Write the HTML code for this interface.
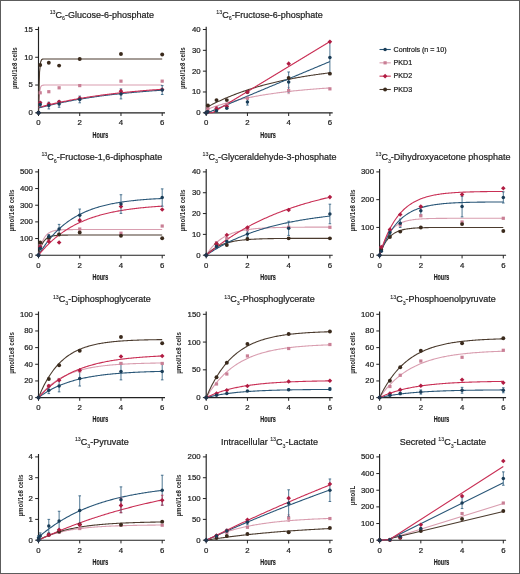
<!DOCTYPE html>
<html><head><meta charset="utf-8"><style>
html,body{margin:0;padding:0;background:#fff;}
svg{display:block;will-change:transform;}
text{font-family:"Liberation Sans",sans-serif;fill:#1e1e1e;stroke:#1e1e1e;stroke-width:0.22px;}
</style></head><body>
<svg width="520" height="574" viewBox="0 0 520 574">
<rect x="0" y="0" width="520" height="574" fill="#fff"/>
<path d="M38.5 26.7V112.8H165" fill="none" stroke="#222" stroke-width="1.15"/>
<path d="M35.2 112.8H38.5" stroke="#222" stroke-width="1"/>
<text x="32.9" y="115.25" font-size="7.8" text-anchor="end">0</text>
<path d="M35.2 85.03H38.5" stroke="#222" stroke-width="1"/>
<text x="32.9" y="87.48" font-size="7.8" text-anchor="end">5</text>
<path d="M35.2 57.27H38.5" stroke="#222" stroke-width="1"/>
<text x="32.9" y="59.72" font-size="7.8" text-anchor="end">10</text>
<path d="M35.2 29.5H38.5" stroke="#222" stroke-width="1"/>
<text x="32.9" y="31.95" font-size="7.8" text-anchor="end">15</text>
<path d="M38.5 112.8V116" stroke="#222" stroke-width="1"/>
<text x="38.5" y="125.2" font-size="7.8" text-anchor="middle">0</text>
<path d="M79.73 112.8V116" stroke="#222" stroke-width="1"/>
<text x="79.73" y="125.2" font-size="7.8" text-anchor="middle">2</text>
<path d="M120.97 112.8V116" stroke="#222" stroke-width="1"/>
<text x="120.97" y="125.2" font-size="7.8" text-anchor="middle">4</text>
<path d="M162.2 112.8V116" stroke="#222" stroke-width="1"/>
<text x="162.2" y="125.2" font-size="7.8" text-anchor="middle">6</text>
<text x="92.55" y="137.5" font-size="9.4" font-weight="bold" textLength="15.6" lengthAdjust="spacingAndGlyphs">Hours</text>
<text transform="translate(17.2 68.15) rotate(-90)" x="-20.9" y="0" font-size="8" font-weight="bold" style="stroke-width:0" textLength="41.8" lengthAdjust="spacingAndGlyphs">µmol/1e8 cells</text>
<text x="49.66" y="13.9" font-size="5.3" style="stroke-width:0.1px">13</text><text x="55.55" y="17.5" font-size="9.0">C</text><text x="62.05" y="20.4" font-size="5.3" style="stroke-width:0.1px">6</text><text x="65" y="17.5" font-size="9.0">-Glucose-6-phosphate</text>
<path d="M38.5 112.8 L39.53 92.99 L40.56 87.31 L41.59 85.69 L42.62 85.22 L43.65 85.09 L44.69 85.05 L45.72 85.04 L46.75 85.03 L47.78 85.03 L48.81 85.03 L49.84 85.03 L50.87 85.03 L51.9 85.03 L52.93 85.03 L53.96 85.03 L54.99 85.03 L56.02 85.03 L57.05 85.03 L58.09 85.03 L59.12 85.03 L60.15 85.03 L61.18 85.03 L62.21 85.03 L63.24 85.03 L64.27 85.03 L65.3 85.03 L66.33 85.03 L67.36 85.03 L68.39 85.03 L69.42 85.03 L70.46 85.03 L71.49 85.03 L72.52 85.03 L73.55 85.03 L74.58 85.03 L75.61 85.03 L76.64 85.03 L77.67 85.03 L78.7 85.03 L79.73 85.03 L80.76 85.03 L81.8 85.03 L82.83 85.03 L83.86 85.03 L84.89 85.03 L85.92 85.03 L86.95 85.03 L87.98 85.03 L89.01 85.03 L90.04 85.03 L91.07 85.03 L92.1 85.03 L93.13 85.03 L94.16 85.03 L95.2 85.03 L96.23 85.03 L97.26 85.03 L98.29 85.03 L99.32 85.03 L100.35 85.03 L101.38 85.03 L102.41 85.03 L103.44 85.03 L104.47 85.03 L105.5 85.03 L106.53 85.03 L107.57 85.03 L108.6 85.03 L109.63 85.03 L110.66 85.03 L111.69 85.03 L112.72 85.03 L113.75 85.03 L114.78 85.03 L115.81 85.03 L116.84 85.03 L117.87 85.03 L118.91 85.03 L119.94 85.03 L120.97 85.03 L122 85.03 L123.03 85.03 L124.06 85.03 L125.09 85.03 L126.12 85.03 L127.15 85.03 L128.18 85.03 L129.21 85.03 L130.24 85.03 L131.28 85.03 L132.31 85.03 L133.34 85.03 L134.37 85.03 L135.4 85.03 L136.43 85.03 L137.46 85.03 L138.49 85.03 L139.52 85.03 L140.55 85.03 L141.58 85.03 L142.61 85.03 L143.64 85.03 L144.68 85.03 L145.71 85.03 L146.74 85.03 L147.77 85.03 L148.8 85.03 L149.83 85.03 L150.86 85.03 L151.89 85.03 L152.92 85.03 L153.95 85.03 L154.98 85.03 L156.02 85.03 L157.05 85.03 L158.08 85.03 L159.11 85.03 L160.14 85.03 L161.17 85.03 L162.2 85.03" fill="none" stroke="#d99eb0" stroke-width="1.1"/>
<path d="M38.5 112.8 L39.53 72.22 L40.56 62.21 L41.59 59.74 L42.62 59.13 L43.65 58.98 L44.69 58.94 L45.72 58.94 L46.75 58.93 L47.78 58.93 L48.81 58.93 L49.84 58.93 L50.87 58.93 L51.9 58.93 L52.93 58.93 L53.96 58.93 L54.99 58.93 L56.02 58.93 L57.05 58.93 L58.09 58.93 L59.12 58.93 L60.15 58.93 L61.18 58.93 L62.21 58.93 L63.24 58.93 L64.27 58.93 L65.3 58.93 L66.33 58.93 L67.36 58.93 L68.39 58.93 L69.42 58.93 L70.46 58.93 L71.49 58.93 L72.52 58.93 L73.55 58.93 L74.58 58.93 L75.61 58.93 L76.64 58.93 L77.67 58.93 L78.7 58.93 L79.73 58.93 L80.76 58.93 L81.8 58.93 L82.83 58.93 L83.86 58.93 L84.89 58.93 L85.92 58.93 L86.95 58.93 L87.98 58.93 L89.01 58.93 L90.04 58.93 L91.07 58.93 L92.1 58.93 L93.13 58.93 L94.16 58.93 L95.2 58.93 L96.23 58.93 L97.26 58.93 L98.29 58.93 L99.32 58.93 L100.35 58.93 L101.38 58.93 L102.41 58.93 L103.44 58.93 L104.47 58.93 L105.5 58.93 L106.53 58.93 L107.57 58.93 L108.6 58.93 L109.63 58.93 L110.66 58.93 L111.69 58.93 L112.72 58.93 L113.75 58.93 L114.78 58.93 L115.81 58.93 L116.84 58.93 L117.87 58.93 L118.91 58.93 L119.94 58.93 L120.97 58.93 L122 58.93 L123.03 58.93 L124.06 58.93 L125.09 58.93 L126.12 58.93 L127.15 58.93 L128.18 58.93 L129.21 58.93 L130.24 58.93 L131.28 58.93 L132.31 58.93 L133.34 58.93 L134.37 58.93 L135.4 58.93 L136.43 58.93 L137.46 58.93 L138.49 58.93 L139.52 58.93 L140.55 58.93 L141.58 58.93 L142.61 58.93 L143.64 58.93 L144.68 58.93 L145.71 58.93 L146.74 58.93 L147.77 58.93 L148.8 58.93 L149.83 58.93 L150.86 58.93 L151.89 58.93 L152.92 58.93 L153.95 58.93 L154.98 58.93 L156.02 58.93 L157.05 58.93 L158.08 58.93 L159.11 58.93 L160.14 58.93 L161.17 58.93 L162.2 58.93" fill="none" stroke="#4b3b2e" stroke-width="1.1"/>
<path d="M38.5 108.08 L39.53 107.8 L40.56 107.53 L41.59 107.26 L42.62 106.99 L43.65 106.73 L44.69 106.47 L45.72 106.21 L46.75 105.95 L47.78 105.7 L48.81 105.45 L49.84 105.2 L50.87 104.96 L51.9 104.72 L52.93 104.48 L53.96 104.25 L54.99 104.02 L56.02 103.79 L57.05 103.56 L58.09 103.34 L59.12 103.11 L60.15 102.89 L61.18 102.68 L62.21 102.46 L63.24 102.25 L64.27 102.04 L65.3 101.84 L66.33 101.63 L67.36 101.43 L68.39 101.23 L69.42 101.04 L70.46 100.84 L71.49 100.65 L72.52 100.46 L73.55 100.27 L74.58 100.08 L75.61 99.9 L76.64 99.72 L77.67 99.54 L78.7 99.36 L79.73 99.19 L80.76 99.01 L81.8 98.84 L82.83 98.67 L83.86 98.51 L84.89 98.34 L85.92 98.18 L86.95 98.02 L87.98 97.86 L89.01 97.7 L90.04 97.54 L91.07 97.39 L92.1 97.24 L93.13 97.09 L94.16 96.94 L95.2 96.79 L96.23 96.65 L97.26 96.5 L98.29 96.36 L99.32 96.22 L100.35 96.08 L101.38 95.95 L102.41 95.81 L103.44 95.68 L104.47 95.55 L105.5 95.42 L106.53 95.29 L107.57 95.16 L108.6 95.03 L109.63 94.91 L110.66 94.78 L111.69 94.66 L112.72 94.54 L113.75 94.42 L114.78 94.31 L115.81 94.19 L116.84 94.08 L117.87 93.96 L118.91 93.85 L119.94 93.74 L120.97 93.63 L122 93.52 L123.03 93.41 L124.06 93.31 L125.09 93.2 L126.12 93.1 L127.15 93 L128.18 92.9 L129.21 92.8 L130.24 92.7 L131.28 92.6 L132.31 92.51 L133.34 92.41 L134.37 92.32 L135.4 92.22 L136.43 92.13 L137.46 92.04 L138.49 91.95 L139.52 91.86 L140.55 91.78 L141.58 91.69 L142.61 91.6 L143.64 91.52 L144.68 91.44 L145.71 91.35 L146.74 91.27 L147.77 91.19 L148.8 91.11 L149.83 91.03 L150.86 90.96 L151.89 90.88 L152.92 90.8 L153.95 90.73 L154.98 90.65 L156.02 90.58 L157.05 90.51 L158.08 90.43 L159.11 90.36 L160.14 90.29 L161.17 90.22 L162.2 90.16" fill="none" stroke="#2a5778" stroke-width="1.1"/>
<path d="M38.5 107.52 L39.53 107.24 L40.56 106.96 L41.59 106.69 L42.62 106.42 L43.65 106.15 L44.69 105.88 L45.72 105.62 L46.75 105.36 L47.78 105.1 L48.81 104.85 L49.84 104.6 L50.87 104.35 L51.9 104.1 L52.93 103.86 L53.96 103.62 L54.99 103.38 L56.02 103.15 L57.05 102.92 L58.09 102.69 L59.12 102.47 L60.15 102.24 L61.18 102.02 L62.21 101.8 L63.24 101.59 L64.27 101.38 L65.3 101.17 L66.33 100.96 L67.36 100.75 L68.39 100.55 L69.42 100.35 L70.46 100.15 L71.49 99.95 L72.52 99.76 L73.55 99.57 L74.58 99.38 L75.61 99.19 L76.64 99.01 L77.67 98.82 L78.7 98.64 L79.73 98.47 L80.76 98.29 L81.8 98.11 L82.83 97.94 L83.86 97.77 L84.89 97.6 L85.92 97.44 L86.95 97.27 L87.98 97.11 L89.01 96.95 L90.04 96.79 L91.07 96.63 L92.1 96.48 L93.13 96.33 L94.16 96.18 L95.2 96.03 L96.23 95.88 L97.26 95.73 L98.29 95.59 L99.32 95.44 L100.35 95.3 L101.38 95.16 L102.41 95.03 L103.44 94.89 L104.47 94.76 L105.5 94.62 L106.53 94.49 L107.57 94.36 L108.6 94.23 L109.63 94.11 L110.66 93.98 L111.69 93.86 L112.72 93.73 L113.75 93.61 L114.78 93.49 L115.81 93.37 L116.84 93.26 L117.87 93.14 L118.91 93.03 L119.94 92.92 L120.97 92.8 L122 92.69 L123.03 92.58 L124.06 92.48 L125.09 92.37 L126.12 92.27 L127.15 92.16 L128.18 92.06 L129.21 91.96 L130.24 91.86 L131.28 91.76 L132.31 91.66 L133.34 91.56 L134.37 91.47 L135.4 91.37 L136.43 91.28 L137.46 91.19 L138.49 91.1 L139.52 91 L140.55 90.92 L141.58 90.83 L142.61 90.74 L143.64 90.65 L144.68 90.57 L145.71 90.48 L146.74 90.4 L147.77 90.32 L148.8 90.24 L149.83 90.16 L150.86 90.08 L151.89 90 L152.92 89.92 L153.95 89.85 L154.98 89.77 L156.02 89.7 L157.05 89.62 L158.08 89.55 L159.11 89.48 L160.14 89.41 L161.17 89.33 L162.2 89.27" fill="none" stroke="#c92f55" stroke-width="1.1"/>
<path d="M40.21 101.69V107.25M38.91 101.69H41.51M38.91 107.25H41.51" stroke="#2f5f7f" stroke-width="0.85" fill="none"/>
<path d="M48.81 102.25V108.91M47.51 102.25H50.11M47.51 108.91H50.11" stroke="#2f5f7f" stroke-width="0.85" fill="none"/>
<path d="M59.12 100.58V107.25M57.82 100.58H60.42M57.82 107.25H60.42" stroke="#2f5f7f" stroke-width="0.85" fill="none"/>
<path d="M79.73 96.14V102.8M78.43 96.14H81.03M78.43 102.8H81.03" stroke="#2f5f7f" stroke-width="0.85" fill="none"/>
<path d="M120.97 88.92V98.92M119.67 88.92H122.27M119.67 98.92H122.27" stroke="#2f5f7f" stroke-width="0.85" fill="none"/>
<path d="M162.2 85.59V94.47M160.9 85.59H163.5M160.9 94.47H163.5" stroke="#2f5f7f" stroke-width="0.85" fill="none"/>
<rect x="38.61" y="91.21" width="3.2" height="3.2" fill="#c97f95"/>
<rect x="47.21" y="90.1" width="3.2" height="3.2" fill="#c97f95"/>
<rect x="57.52" y="86.21" width="3.2" height="3.2" fill="#c97f95"/>
<rect x="78.13" y="83.99" width="3.2" height="3.2" fill="#c97f95"/>
<rect x="119.37" y="79.55" width="3.2" height="3.2" fill="#c97f95"/>
<rect x="160.6" y="79.55" width="3.2" height="3.2" fill="#c97f95"/>
<circle cx="38.5" cy="112.8" r="1.95" fill="#3a2a1c"/>
<circle cx="40.21" cy="65.04" r="1.95" fill="#3a2a1c"/>
<circle cx="48.81" cy="62.82" r="1.95" fill="#3a2a1c"/>
<circle cx="59.12" cy="65.6" r="1.95" fill="#3a2a1c"/>
<circle cx="79.73" cy="58.93" r="1.95" fill="#3a2a1c"/>
<circle cx="120.97" cy="53.93" r="1.95" fill="#3a2a1c"/>
<circle cx="162.2" cy="54.49" r="1.95" fill="#3a2a1c"/>
<path d="M40.21 100.5L42.51 102.8L40.21 105.1L37.91 102.8Z" fill="#b01c42"/>
<path d="M48.81 101.61L51.11 103.91L48.81 106.21L46.51 103.91Z" fill="#b01c42"/>
<path d="M59.12 99.39L61.42 101.69L59.12 103.99L56.82 101.69Z" fill="#b01c42"/>
<path d="M79.73 96.06L82.03 98.36L79.73 100.66L77.43 98.36Z" fill="#b01c42"/>
<path d="M120.97 88.84L123.27 91.14L120.97 93.44L118.67 91.14Z" fill="#b01c42"/>
<path d="M162.2 87.18L164.5 89.48L162.2 91.78L159.9 89.48Z" fill="#b01c42"/>
<circle cx="38.5" cy="112.8" r="1.75" fill="#1a3d58"/>
<circle cx="40.21" cy="104.47" r="1.75" fill="#1a3d58"/>
<circle cx="48.81" cy="105.58" r="1.75" fill="#1a3d58"/>
<circle cx="59.12" cy="103.91" r="1.75" fill="#1a3d58"/>
<circle cx="79.73" cy="99.47" r="1.75" fill="#1a3d58"/>
<circle cx="120.97" cy="93.92" r="1.75" fill="#1a3d58"/>
<circle cx="162.2" cy="90.03" r="1.75" fill="#1a3d58"/>
<path d="M38.5 110.2L41.1 112.8L38.5 115.4L35.9 112.8Z" fill="#23344a"/>
<path d="M206.2 26.7V112.8H332.7" fill="none" stroke="#222" stroke-width="1.15"/>
<path d="M202.9 112.8H206.2" stroke="#222" stroke-width="1"/>
<text x="200.6" y="115.25" font-size="7.8" text-anchor="end">0</text>
<path d="M202.9 91.97H206.2" stroke="#222" stroke-width="1"/>
<text x="200.6" y="94.42" font-size="7.8" text-anchor="end">10</text>
<path d="M202.9 71.15H206.2" stroke="#222" stroke-width="1"/>
<text x="200.6" y="73.6" font-size="7.8" text-anchor="end">20</text>
<path d="M202.9 50.33H206.2" stroke="#222" stroke-width="1"/>
<text x="200.6" y="52.78" font-size="7.8" text-anchor="end">30</text>
<path d="M202.9 29.5H206.2" stroke="#222" stroke-width="1"/>
<text x="200.6" y="31.95" font-size="7.8" text-anchor="end">40</text>
<path d="M206.2 112.8V116" stroke="#222" stroke-width="1"/>
<text x="206.2" y="125.2" font-size="7.8" text-anchor="middle">0</text>
<path d="M247.43 112.8V116" stroke="#222" stroke-width="1"/>
<text x="247.43" y="125.2" font-size="7.8" text-anchor="middle">2</text>
<path d="M288.67 112.8V116" stroke="#222" stroke-width="1"/>
<text x="288.67" y="125.2" font-size="7.8" text-anchor="middle">4</text>
<path d="M329.9 112.8V116" stroke="#222" stroke-width="1"/>
<text x="329.9" y="125.2" font-size="7.8" text-anchor="middle">6</text>
<text x="260.25" y="137.5" font-size="9.4" font-weight="bold" textLength="15.6" lengthAdjust="spacingAndGlyphs">Hours</text>
<text transform="translate(184.9 68.15) rotate(-90)" x="-20.9" y="0" font-size="8" font-weight="bold" style="stroke-width:0" textLength="41.8" lengthAdjust="spacingAndGlyphs">µmol/1e8 cells</text>
<text x="216.36" y="13.9" font-size="5.3" style="stroke-width:0.1px">13</text><text x="222.25" y="17.5" font-size="9.0">C</text><text x="228.75" y="20.4" font-size="5.3" style="stroke-width:0.1px">6</text><text x="231.7" y="17.5" font-size="9.0">-Fructose-6-phosphate</text>
<path d="M206.2 109.68 L207.23 109.29 L208.26 108.91 L209.29 108.53 L210.32 108.16 L211.35 107.8 L212.38 107.44 L213.42 107.08 L214.45 106.73 L215.48 106.39 L216.51 106.05 L217.54 105.72 L218.57 105.39 L219.6 105.06 L220.63 104.75 L221.66 104.43 L222.69 104.12 L223.72 103.82 L224.75 103.52 L225.79 103.22 L226.82 102.93 L227.85 102.64 L228.88 102.36 L229.91 102.08 L230.94 101.81 L231.97 101.54 L233 101.27 L234.03 101.01 L235.06 100.75 L236.09 100.49 L237.12 100.24 L238.16 100 L239.19 99.75 L240.22 99.51 L241.25 99.28 L242.28 99.04 L243.31 98.81 L244.34 98.59 L245.37 98.37 L246.4 98.15 L247.43 97.93 L248.46 97.72 L249.5 97.51 L250.53 97.3 L251.56 97.1 L252.59 96.9 L253.62 96.7 L254.65 96.51 L255.68 96.32 L256.71 96.13 L257.74 95.94 L258.77 95.76 L259.8 95.58 L260.83 95.4 L261.87 95.23 L262.9 95.05 L263.93 94.88 L264.96 94.72 L265.99 94.55 L267.02 94.39 L268.05 94.23 L269.08 94.07 L270.11 93.92 L271.14 93.76 L272.17 93.61 L273.2 93.46 L274.24 93.32 L275.27 93.17 L276.3 93.03 L277.33 92.89 L278.36 92.75 L279.39 92.62 L280.42 92.49 L281.45 92.35 L282.48 92.22 L283.51 92.1 L284.54 91.97 L285.57 91.85 L286.61 91.72 L287.64 91.6 L288.67 91.49 L289.7 91.37 L290.73 91.25 L291.76 91.14 L292.79 91.03 L293.82 90.92 L294.85 90.81 L295.88 90.7 L296.91 90.6 L297.94 90.5 L298.98 90.39 L300.01 90.29 L301.04 90.19 L302.07 90.1 L303.1 90 L304.13 89.91 L305.16 89.81 L306.19 89.72 L307.22 89.63 L308.25 89.54 L309.28 89.45 L310.31 89.37 L311.34 89.28 L312.38 89.2 L313.41 89.12 L314.44 89.03 L315.47 88.95 L316.5 88.87 L317.53 88.8 L318.56 88.72 L319.59 88.64 L320.62 88.57 L321.65 88.5 L322.68 88.42 L323.72 88.35 L324.75 88.28 L325.78 88.21 L326.81 88.15 L327.84 88.08 L328.87 88.01 L329.9 87.95" fill="none" stroke="#d99eb0" stroke-width="1.1"/>
<path d="M206.2 107.59 L207.23 107.04 L208.26 106.49 L209.29 105.95 L210.32 105.41 L211.35 104.88 L212.38 104.36 L213.42 103.84 L214.45 103.33 L215.48 102.83 L216.51 102.33 L217.54 101.84 L218.57 101.36 L219.6 100.88 L220.63 100.41 L221.66 99.94 L222.69 99.48 L223.72 99.02 L224.75 98.57 L225.79 98.13 L226.82 97.69 L227.85 97.26 L228.88 96.83 L229.91 96.41 L230.94 95.99 L231.97 95.58 L233 95.17 L234.03 94.77 L235.06 94.37 L236.09 93.98 L237.12 93.59 L238.16 93.21 L239.19 92.83 L240.22 92.46 L241.25 92.09 L242.28 91.73 L243.31 91.37 L244.34 91.01 L245.37 90.66 L246.4 90.32 L247.43 89.98 L248.46 89.64 L249.5 89.31 L250.53 88.98 L251.56 88.65 L252.59 88.33 L253.62 88.01 L254.65 87.7 L255.68 87.39 L256.71 87.09 L257.74 86.79 L258.77 86.49 L259.8 86.19 L260.83 85.9 L261.87 85.62 L262.9 85.33 L263.93 85.05 L264.96 84.78 L265.99 84.51 L267.02 84.24 L268.05 83.97 L269.08 83.71 L270.11 83.45 L271.14 83.19 L272.17 82.94 L273.2 82.69 L274.24 82.44 L275.27 82.2 L276.3 81.96 L277.33 81.72 L278.36 81.48 L279.39 81.25 L280.42 81.02 L281.45 80.8 L282.48 80.57 L283.51 80.35 L284.54 80.14 L285.57 79.92 L286.61 79.71 L287.64 79.5 L288.67 79.29 L289.7 79.09 L290.73 78.88 L291.76 78.69 L292.79 78.49 L293.82 78.29 L294.85 78.1 L295.88 77.91 L296.91 77.72 L297.94 77.54 L298.98 77.36 L300.01 77.18 L301.04 77 L302.07 76.82 L303.1 76.65 L304.13 76.48 L305.16 76.31 L306.19 76.14 L307.22 75.97 L308.25 75.81 L309.28 75.65 L310.31 75.49 L311.34 75.33 L312.38 75.18 L313.41 75.02 L314.44 74.87 L315.47 74.72 L316.5 74.57 L317.53 74.43 L318.56 74.28 L319.59 74.14 L320.62 74 L321.65 73.86 L322.68 73.72 L323.72 73.59 L324.75 73.45 L325.78 73.32 L326.81 73.19 L327.84 73.06 L328.87 72.94 L329.9 72.81" fill="none" stroke="#4b3b2e" stroke-width="1.1"/>
<path d="M206.2 112.8 L207.23 112.8 L208.26 112.54 L209.29 112.11 L210.32 111.68 L211.35 111.24 L212.38 110.81 L213.42 110.38 L214.45 109.95 L215.48 109.52 L216.51 109.08 L217.54 108.65 L218.57 108.22 L219.6 107.79 L220.63 107.36 L221.66 106.92 L222.69 106.49 L223.72 106.06 L224.75 105.63 L225.79 105.19 L226.82 104.76 L227.85 104.33 L228.88 103.9 L229.91 103.47 L230.94 103.03 L231.97 102.6 L233 102.17 L234.03 101.74 L235.06 101.31 L236.09 100.87 L237.12 100.44 L238.16 100.01 L239.19 99.58 L240.22 99.15 L241.25 98.71 L242.28 98.28 L243.31 97.85 L244.34 97.42 L245.37 96.98 L246.4 96.55 L247.43 96.12 L248.46 95.69 L249.5 95.26 L250.53 94.82 L251.56 94.39 L252.59 93.96 L253.62 93.53 L254.65 93.1 L255.68 92.66 L256.71 92.23 L257.74 91.8 L258.77 91.37 L259.8 90.93 L260.83 90.5 L261.87 90.07 L262.9 89.64 L263.93 89.21 L264.96 88.77 L265.99 88.34 L267.02 87.91 L268.05 87.48 L269.08 87.05 L270.11 86.61 L271.14 86.18 L272.17 85.75 L273.2 85.32 L274.24 84.89 L275.27 84.45 L276.3 84.02 L277.33 83.59 L278.36 83.16 L279.39 82.72 L280.42 82.29 L281.45 81.86 L282.48 81.43 L283.51 81 L284.54 80.56 L285.57 80.13 L286.61 79.7 L287.64 79.27 L288.67 78.84 L289.7 78.4 L290.73 77.97 L291.76 77.54 L292.79 77.11 L293.82 76.67 L294.85 76.24 L295.88 75.81 L296.91 75.38 L297.94 74.95 L298.98 74.51 L300.01 74.08 L301.04 73.65 L302.07 73.22 L303.1 72.79 L304.13 72.35 L305.16 71.92 L306.19 71.49 L307.22 71.06 L308.25 70.63 L309.28 70.19 L310.31 69.76 L311.34 69.33 L312.38 68.9 L313.41 68.46 L314.44 68.03 L315.47 67.6 L316.5 67.17 L317.53 66.74 L318.56 66.3 L319.59 65.87 L320.62 65.44 L321.65 65.01 L322.68 64.58 L323.72 64.14 L324.75 63.71 L325.78 63.28 L326.81 62.85 L327.84 62.41 L328.87 61.98 L329.9 61.55" fill="none" stroke="#2a5778" stroke-width="1.1"/>
<path d="M206.2 112.8 L207.23 112.8 L208.26 112.8 L209.29 112.8 L210.32 112.8 L211.35 112.8 L212.38 112.8 L213.42 112.18 L214.45 111.55 L215.48 110.93 L216.51 110.3 L217.54 109.68 L218.57 109.05 L219.6 108.43 L220.63 107.8 L221.66 107.18 L222.69 106.55 L223.72 105.93 L224.75 105.3 L225.79 104.68 L226.82 104.05 L227.85 103.43 L228.88 102.8 L229.91 102.18 L230.94 101.55 L231.97 100.93 L233 100.3 L234.03 99.68 L235.06 99.06 L236.09 98.43 L237.12 97.81 L238.16 97.18 L239.19 96.56 L240.22 95.93 L241.25 95.31 L242.28 94.68 L243.31 94.06 L244.34 93.43 L245.37 92.81 L246.4 92.18 L247.43 91.56 L248.46 90.93 L249.5 90.31 L250.53 89.68 L251.56 89.06 L252.59 88.43 L253.62 87.81 L254.65 87.19 L255.68 86.56 L256.71 85.94 L257.74 85.31 L258.77 84.69 L259.8 84.06 L260.83 83.44 L261.87 82.81 L262.9 82.19 L263.93 81.56 L264.96 80.94 L265.99 80.31 L267.02 79.69 L268.05 79.06 L269.08 78.44 L270.11 77.81 L271.14 77.19 L272.17 76.56 L273.2 75.94 L274.24 75.31 L275.27 74.69 L276.3 74.07 L277.33 73.44 L278.36 72.82 L279.39 72.19 L280.42 71.57 L281.45 70.94 L282.48 70.32 L283.51 69.69 L284.54 69.07 L285.57 68.44 L286.61 67.82 L287.64 67.19 L288.67 66.57 L289.7 65.94 L290.73 65.32 L291.76 64.69 L292.79 64.07 L293.82 63.44 L294.85 62.82 L295.88 62.2 L296.91 61.57 L297.94 60.95 L298.98 60.32 L300.01 59.7 L301.04 59.07 L302.07 58.45 L303.1 57.82 L304.13 57.2 L305.16 56.57 L306.19 55.95 L307.22 55.32 L308.25 54.7 L309.28 54.07 L310.31 53.45 L311.34 52.82 L312.38 52.2 L313.41 51.57 L314.44 50.95 L315.47 50.33 L316.5 49.7 L317.53 49.08 L318.56 48.45 L319.59 47.83 L320.62 47.2 L321.65 46.58 L322.68 45.95 L323.72 45.33 L324.75 44.7 L325.78 44.08 L326.81 43.45 L327.84 42.83 L328.87 42.2 L329.9 41.58" fill="none" stroke="#c92f55" stroke-width="1.1"/>
<path d="M288.67 87.39V93.64M287.37 87.39H289.97M287.37 93.64H289.97" stroke="#d49aab" stroke-width="0.85" fill="none"/>
<path d="M247.43 98.85V105.09M246.13 98.85H248.73M246.13 105.09H248.73" stroke="#2f5f7f" stroke-width="0.85" fill="none"/>
<path d="M288.67 71.98V91.97M287.37 71.98H289.97M287.37 91.97H289.97" stroke="#2f5f7f" stroke-width="0.85" fill="none"/>
<path d="M329.9 41.37V73.86M328.6 41.37H331.2M328.6 73.86H331.2" stroke="#2f5f7f" stroke-width="0.85" fill="none"/>
<rect x="206.31" y="107.03" width="3.2" height="3.2" fill="#c97f95"/>
<rect x="214.91" y="105.99" width="3.2" height="3.2" fill="#c97f95"/>
<rect x="225.22" y="102.87" width="3.2" height="3.2" fill="#c97f95"/>
<rect x="245.83" y="96.62" width="3.2" height="3.2" fill="#c97f95"/>
<rect x="287.07" y="88.92" width="3.2" height="3.2" fill="#c97f95"/>
<rect x="328.3" y="87.25" width="3.2" height="3.2" fill="#c97f95"/>
<circle cx="207.91" cy="105.51" r="1.95" fill="#3a2a1c"/>
<circle cx="216.51" cy="100.1" r="1.95" fill="#3a2a1c"/>
<circle cx="226.82" cy="100.1" r="1.95" fill="#3a2a1c"/>
<circle cx="247.43" cy="91.97" r="1.95" fill="#3a2a1c"/>
<circle cx="288.67" cy="78.02" r="1.95" fill="#3a2a1c"/>
<circle cx="329.9" cy="73.65" r="1.95" fill="#3a2a1c"/>
<path d="M207.91 109.46L210.21 111.76L207.91 114.06L205.61 111.76Z" fill="#b01c42"/>
<path d="M216.51 106.33L218.81 108.63L216.51 110.93L214.21 108.63Z" fill="#b01c42"/>
<path d="M226.82 104.25L229.12 106.55L226.82 108.85L224.52 106.55Z" fill="#b01c42"/>
<path d="M247.43 89.67L249.73 91.97L247.43 94.27L245.13 91.97Z" fill="#b01c42"/>
<path d="M288.67 61.35L290.97 63.65L288.67 65.95L286.37 63.65Z" fill="#b01c42"/>
<path d="M329.9 39.49L332.2 41.79L329.9 44.09L327.6 41.79Z" fill="#b01c42"/>
<circle cx="206.2" cy="112.8" r="1.75" fill="#1a3d58"/>
<circle cx="207.91" cy="111.76" r="1.75" fill="#1a3d58"/>
<circle cx="216.51" cy="110.72" r="1.75" fill="#1a3d58"/>
<circle cx="226.82" cy="108.22" r="1.75" fill="#1a3d58"/>
<circle cx="247.43" cy="101.97" r="1.75" fill="#1a3d58"/>
<circle cx="288.67" cy="81.98" r="1.75" fill="#1a3d58"/>
<circle cx="329.9" cy="57.61" r="1.75" fill="#1a3d58"/>
<path d="M206.2 110.2L208.8 112.8L206.2 115.4L203.6 112.8Z" fill="#23344a"/>
<path d="M38.5 169.1V255.2H165" fill="none" stroke="#222" stroke-width="1.15"/>
<path d="M35.2 255.2H38.5" stroke="#222" stroke-width="1"/>
<text x="32.9" y="257.65" font-size="7.8" text-anchor="end">0</text>
<path d="M35.2 238.54H38.5" stroke="#222" stroke-width="1"/>
<text x="32.9" y="240.99" font-size="7.8" text-anchor="end">100</text>
<path d="M35.2 221.88H38.5" stroke="#222" stroke-width="1"/>
<text x="32.9" y="224.33" font-size="7.8" text-anchor="end">200</text>
<path d="M35.2 205.22H38.5" stroke="#222" stroke-width="1"/>
<text x="32.9" y="207.67" font-size="7.8" text-anchor="end">300</text>
<path d="M35.2 188.56H38.5" stroke="#222" stroke-width="1"/>
<text x="32.9" y="191.01" font-size="7.8" text-anchor="end">400</text>
<path d="M35.2 171.9H38.5" stroke="#222" stroke-width="1"/>
<text x="32.9" y="174.35" font-size="7.8" text-anchor="end">500</text>
<path d="M38.5 255.2V258.4" stroke="#222" stroke-width="1"/>
<text x="38.5" y="267.6" font-size="7.8" text-anchor="middle">0</text>
<path d="M79.73 255.2V258.4" stroke="#222" stroke-width="1"/>
<text x="79.73" y="267.6" font-size="7.8" text-anchor="middle">2</text>
<path d="M120.97 255.2V258.4" stroke="#222" stroke-width="1"/>
<text x="120.97" y="267.6" font-size="7.8" text-anchor="middle">4</text>
<path d="M162.2 255.2V258.4" stroke="#222" stroke-width="1"/>
<text x="162.2" y="267.6" font-size="7.8" text-anchor="middle">6</text>
<text x="92.55" y="279.9" font-size="9.4" font-weight="bold" textLength="15.6" lengthAdjust="spacingAndGlyphs">Hours</text>
<text transform="translate(13.7 210.55) rotate(-90)" x="-20.9" y="0" font-size="8" font-weight="bold" style="stroke-width:0" textLength="41.8" lengthAdjust="spacingAndGlyphs">µmol/1e8 cells</text>
<text x="41.41" y="156.3" font-size="5.3" style="stroke-width:0.1px">13</text><text x="47.3" y="159.9" font-size="9.0">C</text><text x="53.8" y="162.8" font-size="5.3" style="stroke-width:0.1px">6</text><text x="56.75" y="159.9" font-size="9.0">-Fructose-1,6-diphosphate</text>
<path d="M38.5 255.2 L39.53 250.55 L40.56 246.74 L41.59 243.62 L42.62 241.07 L43.65 238.98 L44.69 237.27 L45.72 235.87 L46.75 234.72 L47.78 233.78 L48.81 233.02 L49.84 232.39 L50.87 231.87 L51.9 231.45 L52.93 231.1 L53.96 230.82 L54.99 230.59 L56.02 230.4 L57.05 230.24 L58.09 230.12 L59.12 230.01 L60.15 229.93 L61.18 229.86 L62.21 229.8 L63.24 229.75 L64.27 229.72 L65.3 229.69 L66.33 229.66 L67.36 229.64 L68.39 229.62 L69.42 229.61 L70.46 229.6 L71.49 229.59 L72.52 229.58 L73.55 229.57 L74.58 229.57 L75.61 229.56 L76.64 229.56 L77.67 229.56 L78.7 229.55 L79.73 229.55 L80.76 229.55 L81.8 229.55 L82.83 229.55 L83.86 229.55 L84.89 229.55 L85.92 229.55 L86.95 229.55 L87.98 229.55 L89.01 229.55 L90.04 229.54 L91.07 229.54 L92.1 229.54 L93.13 229.54 L94.16 229.54 L95.2 229.54 L96.23 229.54 L97.26 229.54 L98.29 229.54 L99.32 229.54 L100.35 229.54 L101.38 229.54 L102.41 229.54 L103.44 229.54 L104.47 229.54 L105.5 229.54 L106.53 229.54 L107.57 229.54 L108.6 229.54 L109.63 229.54 L110.66 229.54 L111.69 229.54 L112.72 229.54 L113.75 229.54 L114.78 229.54 L115.81 229.54 L116.84 229.54 L117.87 229.54 L118.91 229.54 L119.94 229.54 L120.97 229.54 L122 229.54 L123.03 229.54 L124.06 229.54 L125.09 229.54 L126.12 229.54 L127.15 229.54 L128.18 229.54 L129.21 229.54 L130.24 229.54 L131.28 229.54 L132.31 229.54 L133.34 229.54 L134.37 229.54 L135.4 229.54 L136.43 229.54 L137.46 229.54 L138.49 229.54 L139.52 229.54 L140.55 229.54 L141.58 229.54 L142.61 229.54 L143.64 229.54 L144.68 229.54 L145.71 229.54 L146.74 229.54 L147.77 229.54 L148.8 229.54 L149.83 229.54 L150.86 229.54 L151.89 229.54 L152.92 229.54 L153.95 229.54 L154.98 229.54 L156.02 229.54 L157.05 229.54 L158.08 229.54 L159.11 229.54 L160.14 229.54 L161.17 229.54 L162.2 229.54" fill="none" stroke="#d99eb0" stroke-width="1.1"/>
<path d="M38.5 255.2 L39.53 251.14 L40.56 247.9 L41.59 245.31 L42.62 243.24 L43.65 241.59 L44.69 240.27 L45.72 239.21 L46.75 238.37 L47.78 237.7 L48.81 237.17 L49.84 236.74 L50.87 236.4 L51.9 236.12 L52.93 235.91 L53.96 235.73 L54.99 235.59 L56.02 235.48 L57.05 235.39 L58.09 235.32 L59.12 235.27 L60.15 235.22 L61.18 235.18 L62.21 235.16 L63.24 235.13 L64.27 235.11 L65.3 235.1 L66.33 235.09 L67.36 235.08 L68.39 235.07 L69.42 235.07 L70.46 235.06 L71.49 235.06 L72.52 235.05 L73.55 235.05 L74.58 235.05 L75.61 235.05 L76.64 235.05 L77.67 235.05 L78.7 235.04 L79.73 235.04 L80.76 235.04 L81.8 235.04 L82.83 235.04 L83.86 235.04 L84.89 235.04 L85.92 235.04 L86.95 235.04 L87.98 235.04 L89.01 235.04 L90.04 235.04 L91.07 235.04 L92.1 235.04 L93.13 235.04 L94.16 235.04 L95.2 235.04 L96.23 235.04 L97.26 235.04 L98.29 235.04 L99.32 235.04 L100.35 235.04 L101.38 235.04 L102.41 235.04 L103.44 235.04 L104.47 235.04 L105.5 235.04 L106.53 235.04 L107.57 235.04 L108.6 235.04 L109.63 235.04 L110.66 235.04 L111.69 235.04 L112.72 235.04 L113.75 235.04 L114.78 235.04 L115.81 235.04 L116.84 235.04 L117.87 235.04 L118.91 235.04 L119.94 235.04 L120.97 235.04 L122 235.04 L123.03 235.04 L124.06 235.04 L125.09 235.04 L126.12 235.04 L127.15 235.04 L128.18 235.04 L129.21 235.04 L130.24 235.04 L131.28 235.04 L132.31 235.04 L133.34 235.04 L134.37 235.04 L135.4 235.04 L136.43 235.04 L137.46 235.04 L138.49 235.04 L139.52 235.04 L140.55 235.04 L141.58 235.04 L142.61 235.04 L143.64 235.04 L144.68 235.04 L145.71 235.04 L146.74 235.04 L147.77 235.04 L148.8 235.04 L149.83 235.04 L150.86 235.04 L151.89 235.04 L152.92 235.04 L153.95 235.04 L154.98 235.04 L156.02 235.04 L157.05 235.04 L158.08 235.04 L159.11 235.04 L160.14 235.04 L161.17 235.04 L162.2 235.04" fill="none" stroke="#4b3b2e" stroke-width="1.1"/>
<path d="M38.5 255.2 L39.53 253.48 L40.56 251.8 L41.59 250.18 L42.62 248.61 L43.65 247.08 L44.69 245.59 L45.72 244.16 L46.75 242.76 L47.78 241.4 L48.81 240.09 L49.84 238.81 L50.87 237.57 L51.9 236.37 L52.93 235.2 L53.96 234.07 L54.99 232.97 L56.02 231.9 L57.05 230.87 L58.09 229.87 L59.12 228.89 L60.15 227.95 L61.18 227.03 L62.21 226.14 L63.24 225.27 L64.27 224.43 L65.3 223.62 L66.33 222.83 L67.36 222.06 L68.39 221.32 L69.42 220.6 L70.46 219.9 L71.49 219.22 L72.52 218.56 L73.55 217.92 L74.58 217.29 L75.61 216.69 L76.64 216.11 L77.67 215.54 L78.7 214.99 L79.73 214.45 L80.76 213.93 L81.8 213.43 L82.83 212.94 L83.86 212.47 L84.89 212.01 L85.92 211.56 L86.95 211.13 L87.98 210.71 L89.01 210.3 L90.04 209.9 L91.07 209.52 L92.1 209.14 L93.13 208.78 L94.16 208.43 L95.2 208.09 L96.23 207.76 L97.26 207.44 L98.29 207.12 L99.32 206.82 L100.35 206.53 L101.38 206.24 L102.41 205.97 L103.44 205.7 L104.47 205.44 L105.5 205.19 L106.53 204.94 L107.57 204.7 L108.6 204.47 L109.63 204.25 L110.66 204.03 L111.69 203.82 L112.72 203.61 L113.75 203.42 L114.78 203.22 L115.81 203.04 L116.84 202.85 L117.87 202.68 L118.91 202.51 L119.94 202.34 L120.97 202.18 L122 202.02 L123.03 201.87 L124.06 201.72 L125.09 201.58 L126.12 201.44 L127.15 201.31 L128.18 201.18 L129.21 201.05 L130.24 200.93 L131.28 200.81 L132.31 200.69 L133.34 200.58 L134.37 200.47 L135.4 200.37 L136.43 200.26 L137.46 200.16 L138.49 200.07 L139.52 199.97 L140.55 199.88 L141.58 199.79 L142.61 199.71 L143.64 199.62 L144.68 199.54 L145.71 199.46 L146.74 199.39 L147.77 199.31 L148.8 199.24 L149.83 199.17 L150.86 199.11 L151.89 199.04 L152.92 198.98 L153.95 198.92 L154.98 198.86 L156.02 198.8 L157.05 198.74 L158.08 198.69 L159.11 198.63 L160.14 198.58 L161.17 198.53 L162.2 198.48" fill="none" stroke="#2a5778" stroke-width="1.1"/>
<path d="M38.5 255.2 L39.53 253.92 L40.56 252.68 L41.59 251.47 L42.62 250.29 L43.65 249.13 L44.69 248.01 L45.72 246.91 L46.75 245.84 L47.78 244.79 L48.81 243.78 L49.84 242.78 L50.87 241.81 L51.9 240.87 L52.93 239.95 L53.96 239.05 L54.99 238.17 L56.02 237.32 L57.05 236.48 L58.09 235.67 L59.12 234.88 L60.15 234.11 L61.18 233.35 L62.21 232.62 L63.24 231.9 L64.27 231.2 L65.3 230.52 L66.33 229.85 L67.36 229.2 L68.39 228.57 L69.42 227.95 L70.46 227.35 L71.49 226.76 L72.52 226.19 L73.55 225.63 L74.58 225.08 L75.61 224.55 L76.64 224.03 L77.67 223.53 L78.7 223.03 L79.73 222.55 L80.76 222.08 L81.8 221.63 L82.83 221.18 L83.86 220.75 L84.89 220.32 L85.92 219.91 L86.95 219.5 L87.98 219.11 L89.01 218.73 L90.04 218.35 L91.07 217.99 L92.1 217.63 L93.13 217.28 L94.16 216.94 L95.2 216.61 L96.23 216.29 L97.26 215.98 L98.29 215.67 L99.32 215.37 L100.35 215.08 L101.38 214.79 L102.41 214.52 L103.44 214.25 L104.47 213.98 L105.5 213.72 L106.53 213.47 L107.57 213.23 L108.6 212.99 L109.63 212.76 L110.66 212.53 L111.69 212.31 L112.72 212.09 L113.75 211.88 L114.78 211.67 L115.81 211.47 L116.84 211.28 L117.87 211.09 L118.91 210.9 L119.94 210.72 L120.97 210.54 L122 210.37 L123.03 210.2 L124.06 210.04 L125.09 209.88 L126.12 209.72 L127.15 209.57 L128.18 209.42 L129.21 209.28 L130.24 209.14 L131.28 209 L132.31 208.86 L133.34 208.73 L134.37 208.6 L135.4 208.48 L136.43 208.36 L137.46 208.24 L138.49 208.12 L139.52 208.01 L140.55 207.9 L141.58 207.79 L142.61 207.69 L143.64 207.59 L144.68 207.49 L145.71 207.39 L146.74 207.3 L147.77 207.2 L148.8 207.11 L149.83 207.02 L150.86 206.94 L151.89 206.86 L152.92 206.77 L153.95 206.69 L154.98 206.62 L156.02 206.54 L157.05 206.47 L158.08 206.4 L159.11 206.33 L160.14 206.26 L161.17 206.19 L162.2 206.13" fill="none" stroke="#c92f55" stroke-width="1.1"/>
<path d="M40.21 246.54V249.87M38.91 246.54H41.51M38.91 249.87H41.51" stroke="#2f5f7f" stroke-width="0.85" fill="none"/>
<path d="M48.81 234.54V238.54M47.51 234.54H50.11M47.51 238.54H50.11" stroke="#2f5f7f" stroke-width="0.85" fill="none"/>
<path d="M59.12 224.38V233.71M57.82 224.38H60.42M57.82 233.71H60.42" stroke="#2f5f7f" stroke-width="0.85" fill="none"/>
<path d="M79.73 209.05V221.38M78.43 209.05H81.03M78.43 221.38H81.03" stroke="#2f5f7f" stroke-width="0.85" fill="none"/>
<path d="M120.97 194.72V213.38M119.67 194.72H122.27M119.67 213.38H122.27" stroke="#2f5f7f" stroke-width="0.85" fill="none"/>
<path d="M162.2 188.89V206.22M160.9 188.89H163.5M160.9 206.22H163.5" stroke="#2f5f7f" stroke-width="0.85" fill="none"/>
<rect x="38.61" y="243.6" width="3.2" height="3.2" fill="#c97f95"/>
<rect x="47.21" y="236.94" width="3.2" height="3.2" fill="#c97f95"/>
<rect x="57.52" y="232.78" width="3.2" height="3.2" fill="#c97f95"/>
<rect x="78.13" y="227.44" width="3.2" height="3.2" fill="#c97f95"/>
<rect x="119.37" y="231.61" width="3.2" height="3.2" fill="#c97f95"/>
<rect x="160.6" y="224.44" width="3.2" height="3.2" fill="#c97f95"/>
<circle cx="40.21" cy="242.54" r="1.95" fill="#3a2a1c"/>
<circle cx="48.81" cy="237.71" r="1.95" fill="#3a2a1c"/>
<circle cx="59.12" cy="234.54" r="1.95" fill="#3a2a1c"/>
<circle cx="79.73" cy="232.54" r="1.95" fill="#3a2a1c"/>
<circle cx="120.97" cy="235.71" r="1.95" fill="#3a2a1c"/>
<circle cx="162.2" cy="238.21" r="1.95" fill="#3a2a1c"/>
<path d="M40.21 244.57L42.51 246.87L40.21 249.17L37.91 246.87Z" fill="#b01c42"/>
<path d="M48.81 239.24L51.11 241.54L48.81 243.84L46.51 241.54Z" fill="#b01c42"/>
<path d="M59.12 240.24L61.42 242.54L59.12 244.84L56.82 242.54Z" fill="#b01c42"/>
<path d="M79.73 217.91L82.03 220.21L79.73 222.51L77.43 220.21Z" fill="#b01c42"/>
<path d="M120.97 204.25L123.27 206.55L120.97 208.85L118.67 206.55Z" fill="#b01c42"/>
<path d="M162.2 207.25L164.5 209.55L162.2 211.85L159.9 209.55Z" fill="#b01c42"/>
<circle cx="38.5" cy="255.2" r="1.75" fill="#1a3d58"/>
<circle cx="40.21" cy="248.2" r="1.75" fill="#1a3d58"/>
<circle cx="48.81" cy="236.54" r="1.75" fill="#1a3d58"/>
<circle cx="59.12" cy="229.04" r="1.75" fill="#1a3d58"/>
<circle cx="79.73" cy="215.22" r="1.75" fill="#1a3d58"/>
<circle cx="120.97" cy="204.05" r="1.75" fill="#1a3d58"/>
<circle cx="162.2" cy="197.56" r="1.75" fill="#1a3d58"/>
<path d="M38.5 252.6L41.1 255.2L38.5 257.8L35.9 255.2Z" fill="#23344a"/>
<path d="M206.2 169.1V255.2H332.7" fill="none" stroke="#222" stroke-width="1.15"/>
<path d="M202.9 255.2H206.2" stroke="#222" stroke-width="1"/>
<text x="200.6" y="257.65" font-size="7.8" text-anchor="end">0</text>
<path d="M202.9 234.38H206.2" stroke="#222" stroke-width="1"/>
<text x="200.6" y="236.82" font-size="7.8" text-anchor="end">10</text>
<path d="M202.9 213.55H206.2" stroke="#222" stroke-width="1"/>
<text x="200.6" y="216" font-size="7.8" text-anchor="end">20</text>
<path d="M202.9 192.72H206.2" stroke="#222" stroke-width="1"/>
<text x="200.6" y="195.17" font-size="7.8" text-anchor="end">30</text>
<path d="M202.9 171.9H206.2" stroke="#222" stroke-width="1"/>
<text x="200.6" y="174.35" font-size="7.8" text-anchor="end">40</text>
<path d="M206.2 255.2V258.4" stroke="#222" stroke-width="1"/>
<text x="206.2" y="267.6" font-size="7.8" text-anchor="middle">0</text>
<path d="M247.43 255.2V258.4" stroke="#222" stroke-width="1"/>
<text x="247.43" y="267.6" font-size="7.8" text-anchor="middle">2</text>
<path d="M288.67 255.2V258.4" stroke="#222" stroke-width="1"/>
<text x="288.67" y="267.6" font-size="7.8" text-anchor="middle">4</text>
<path d="M329.9 255.2V258.4" stroke="#222" stroke-width="1"/>
<text x="329.9" y="267.6" font-size="7.8" text-anchor="middle">6</text>
<text x="260.25" y="279.9" font-size="9.4" font-weight="bold" textLength="15.6" lengthAdjust="spacingAndGlyphs">Hours</text>
<text transform="translate(184.9 210.55) rotate(-90)" x="-20.9" y="0" font-size="8" font-weight="bold" style="stroke-width:0" textLength="41.8" lengthAdjust="spacingAndGlyphs">µmol/1e8 cells</text>
<text x="202.6" y="156.3" font-size="5.3" style="stroke-width:0.1px">13</text><text x="208.49" y="159.9" font-size="9.0">C</text><text x="214.99" y="162.8" font-size="5.3" style="stroke-width:0.1px">3</text><text x="217.94" y="159.9" font-size="9.0">-Glyceraldehyde-3-phosphate</text>
<path d="M206.2 255.2 L207.23 253.56 L208.26 252.02 L209.29 250.57 L210.32 249.2 L211.35 247.91 L212.38 246.7 L213.42 245.56 L214.45 244.48 L215.48 243.47 L216.51 242.52 L217.54 241.62 L218.57 240.77 L219.6 239.97 L220.63 239.22 L221.66 238.52 L222.69 237.85 L223.72 237.22 L224.75 236.63 L225.79 236.08 L226.82 235.55 L227.85 235.06 L228.88 234.6 L229.91 234.16 L230.94 233.75 L231.97 233.36 L233 232.99 L234.03 232.65 L235.06 232.33 L236.09 232.02 L237.12 231.73 L238.16 231.46 L239.19 231.21 L240.22 230.97 L241.25 230.74 L242.28 230.53 L243.31 230.33 L244.34 230.14 L245.37 229.96 L246.4 229.79 L247.43 229.64 L248.46 229.49 L249.5 229.35 L250.53 229.22 L251.56 229.09 L252.59 228.98 L253.62 228.87 L254.65 228.76 L255.68 228.66 L256.71 228.57 L257.74 228.49 L258.77 228.4 L259.8 228.33 L260.83 228.26 L261.87 228.19 L262.9 228.12 L263.93 228.06 L264.96 228.01 L265.99 227.95 L267.02 227.9 L268.05 227.85 L269.08 227.81 L270.11 227.77 L271.14 227.73 L272.17 227.69 L273.2 227.66 L274.24 227.62 L275.27 227.59 L276.3 227.56 L277.33 227.53 L278.36 227.51 L279.39 227.48 L280.42 227.46 L281.45 227.44 L282.48 227.42 L283.51 227.4 L284.54 227.38 L285.57 227.36 L286.61 227.35 L287.64 227.33 L288.67 227.32 L289.7 227.3 L290.73 227.29 L291.76 227.28 L292.79 227.27 L293.82 227.26 L294.85 227.25 L295.88 227.24 L296.91 227.23 L297.94 227.22 L298.98 227.21 L300.01 227.21 L301.04 227.2 L302.07 227.19 L303.1 227.19 L304.13 227.18 L305.16 227.17 L306.19 227.17 L307.22 227.16 L308.25 227.16 L309.28 227.16 L310.31 227.15 L311.34 227.15 L312.38 227.14 L313.41 227.14 L314.44 227.14 L315.47 227.13 L316.5 227.13 L317.53 227.13 L318.56 227.13 L319.59 227.12 L320.62 227.12 L321.65 227.12 L322.68 227.12 L323.72 227.12 L324.75 227.11 L325.78 227.11 L326.81 227.11 L327.84 227.11 L328.87 227.11 L329.9 227.11" fill="none" stroke="#d99eb0" stroke-width="1.1"/>
<path d="M206.2 255.2 L207.23 254.14 L208.26 253.14 L209.29 252.21 L210.32 251.34 L211.35 250.52 L212.38 249.75 L213.42 249.03 L214.45 248.36 L215.48 247.73 L216.51 247.14 L217.54 246.58 L218.57 246.06 L219.6 245.58 L220.63 245.12 L221.66 244.69 L222.69 244.29 L223.72 243.92 L224.75 243.57 L225.79 243.24 L226.82 242.93 L227.85 242.64 L228.88 242.37 L229.91 242.11 L230.94 241.88 L231.97 241.65 L233 241.44 L234.03 241.25 L235.06 241.06 L236.09 240.89 L237.12 240.73 L238.16 240.58 L239.19 240.44 L240.22 240.31 L241.25 240.18 L242.28 240.07 L243.31 239.96 L244.34 239.85 L245.37 239.76 L246.4 239.67 L247.43 239.58 L248.46 239.51 L249.5 239.43 L250.53 239.36 L251.56 239.3 L252.59 239.24 L253.62 239.18 L254.65 239.13 L255.68 239.08 L256.71 239.03 L257.74 238.99 L258.77 238.94 L259.8 238.91 L260.83 238.87 L261.87 238.84 L262.9 238.8 L263.93 238.77 L264.96 238.75 L265.99 238.72 L267.02 238.7 L268.05 238.67 L269.08 238.65 L270.11 238.63 L271.14 238.61 L272.17 238.6 L273.2 238.58 L274.24 238.56 L275.27 238.55 L276.3 238.53 L277.33 238.52 L278.36 238.51 L279.39 238.5 L280.42 238.49 L281.45 238.48 L282.48 238.47 L283.51 238.46 L284.54 238.45 L285.57 238.44 L286.61 238.44 L287.64 238.43 L288.67 238.42 L289.7 238.42 L290.73 238.41 L291.76 238.41 L292.79 238.4 L293.82 238.4 L294.85 238.39 L295.88 238.39 L296.91 238.39 L297.94 238.38 L298.98 238.38 L300.01 238.38 L301.04 238.37 L302.07 238.37 L303.1 238.37 L304.13 238.37 L305.16 238.36 L306.19 238.36 L307.22 238.36 L308.25 238.36 L309.28 238.36 L310.31 238.36 L311.34 238.35 L312.38 238.35 L313.41 238.35 L314.44 238.35 L315.47 238.35 L316.5 238.35 L317.53 238.35 L318.56 238.35 L319.59 238.34 L320.62 238.34 L321.65 238.34 L322.68 238.34 L323.72 238.34 L324.75 238.34 L325.78 238.34 L326.81 238.34 L327.84 238.34 L328.87 238.34 L329.9 238.34" fill="none" stroke="#4b3b2e" stroke-width="1.1"/>
<path d="M206.2 255.2 L207.23 254.5 L208.26 253.82 L209.29 253.14 L210.32 252.47 L211.35 251.81 L212.38 251.17 L213.42 250.53 L214.45 249.9 L215.48 249.28 L216.51 248.67 L217.54 248.07 L218.57 247.48 L219.6 246.9 L220.63 246.32 L221.66 245.76 L222.69 245.2 L223.72 244.65 L224.75 244.11 L225.79 243.58 L226.82 243.06 L227.85 242.54 L228.88 242.03 L229.91 241.53 L230.94 241.03 L231.97 240.55 L233 240.07 L234.03 239.6 L235.06 239.13 L236.09 238.67 L237.12 238.22 L238.16 237.78 L239.19 237.34 L240.22 236.91 L241.25 236.48 L242.28 236.06 L243.31 235.65 L244.34 235.24 L245.37 234.84 L246.4 234.45 L247.43 234.06 L248.46 233.68 L249.5 233.3 L250.53 232.93 L251.56 232.56 L252.59 232.2 L253.62 231.85 L254.65 231.5 L255.68 231.15 L256.71 230.81 L257.74 230.48 L258.77 230.15 L259.8 229.82 L260.83 229.5 L261.87 229.19 L262.9 228.88 L263.93 228.57 L264.96 228.27 L265.99 227.97 L267.02 227.68 L268.05 227.39 L269.08 227.11 L270.11 226.83 L271.14 226.56 L272.17 226.28 L273.2 226.02 L274.24 225.75 L275.27 225.5 L276.3 225.24 L277.33 224.99 L278.36 224.74 L279.39 224.5 L280.42 224.26 L281.45 224.02 L282.48 223.79 L283.51 223.56 L284.54 223.33 L285.57 223.11 L286.61 222.89 L287.64 222.67 L288.67 222.46 L289.7 222.25 L290.73 222.04 L291.76 221.84 L292.79 221.63 L293.82 221.44 L294.85 221.24 L295.88 221.05 L296.91 220.86 L297.94 220.67 L298.98 220.49 L300.01 220.31 L301.04 220.13 L302.07 219.96 L303.1 219.78 L304.13 219.61 L305.16 219.45 L306.19 219.28 L307.22 219.12 L308.25 218.96 L309.28 218.8 L310.31 218.64 L311.34 218.49 L312.38 218.34 L313.41 218.19 L314.44 218.04 L315.47 217.9 L316.5 217.76 L317.53 217.62 L318.56 217.48 L319.59 217.34 L320.62 217.21 L321.65 217.08 L322.68 216.95 L323.72 216.82 L324.75 216.69 L325.78 216.57 L326.81 216.45 L327.84 216.32 L328.87 216.21 L329.9 216.09" fill="none" stroke="#2a5778" stroke-width="1.1"/>
<path d="M206.2 255.2 L207.23 254.33 L208.26 253.48 L209.29 252.63 L210.32 251.79 L211.35 250.97 L212.38 250.15 L213.42 249.34 L214.45 248.53 L215.48 247.74 L216.51 246.96 L217.54 246.18 L218.57 245.41 L219.6 244.66 L220.63 243.91 L221.66 243.16 L222.69 242.43 L223.72 241.7 L224.75 240.98 L225.79 240.27 L226.82 239.57 L227.85 238.88 L228.88 238.19 L229.91 237.51 L230.94 236.84 L231.97 236.17 L233 235.52 L234.03 234.87 L235.06 234.22 L236.09 233.59 L237.12 232.96 L238.16 232.33 L239.19 231.72 L240.22 231.11 L241.25 230.51 L242.28 229.91 L243.31 229.32 L244.34 228.74 L245.37 228.16 L246.4 227.59 L247.43 227.03 L248.46 226.47 L249.5 225.92 L250.53 225.38 L251.56 224.84 L252.59 224.3 L253.62 223.78 L254.65 223.25 L255.68 222.74 L256.71 222.23 L257.74 221.72 L258.77 221.22 L259.8 220.73 L260.83 220.24 L261.87 219.76 L262.9 219.28 L263.93 218.81 L264.96 218.34 L265.99 217.88 L267.02 217.42 L268.05 216.97 L269.08 216.52 L270.11 216.08 L271.14 215.64 L272.17 215.21 L273.2 214.78 L274.24 214.35 L275.27 213.93 L276.3 213.52 L277.33 213.11 L278.36 212.71 L279.39 212.3 L280.42 211.91 L281.45 211.52 L282.48 211.13 L283.51 210.74 L284.54 210.37 L285.57 209.99 L286.61 209.62 L287.64 209.25 L288.67 208.89 L289.7 208.53 L290.73 208.17 L291.76 207.82 L292.79 207.48 L293.82 207.13 L294.85 206.79 L295.88 206.46 L296.91 206.12 L297.94 205.79 L298.98 205.47 L300.01 205.15 L301.04 204.83 L302.07 204.52 L303.1 204.2 L304.13 203.9 L305.16 203.59 L306.19 203.29 L307.22 202.99 L308.25 202.7 L309.28 202.41 L310.31 202.12 L311.34 201.83 L312.38 201.55 L313.41 201.27 L314.44 201 L315.47 200.72 L316.5 200.45 L317.53 200.19 L318.56 199.92 L319.59 199.66 L320.62 199.4 L321.65 199.15 L322.68 198.9 L323.72 198.65 L324.75 198.4 L325.78 198.16 L326.81 197.91 L327.84 197.67 L328.87 197.44 L329.9 197.2" fill="none" stroke="#c92f55" stroke-width="1.1"/>
<path d="M216.51 244.37V248.54M215.21 244.37H217.81M215.21 248.54H217.81" stroke="#2f5f7f" stroke-width="0.85" fill="none"/>
<path d="M226.82 238.96V243.95M225.52 238.96H228.12M225.52 243.95H228.12" stroke="#2f5f7f" stroke-width="0.85" fill="none"/>
<path d="M247.43 230.83V237.08M246.13 230.83H248.73M246.13 237.08H248.73" stroke="#2f5f7f" stroke-width="0.85" fill="none"/>
<path d="M288.67 221.26V235.42M287.37 221.26H289.97M287.37 235.42H289.97" stroke="#2f5f7f" stroke-width="0.85" fill="none"/>
<path d="M329.9 204.18V223.75M328.6 204.18H331.2M328.6 223.75H331.2" stroke="#2f5f7f" stroke-width="0.85" fill="none"/>
<rect x="214.91" y="241.1" width="3.2" height="3.2" fill="#c97f95"/>
<rect x="225.22" y="236.94" width="3.2" height="3.2" fill="#c97f95"/>
<rect x="245.83" y="227.99" width="3.2" height="3.2" fill="#c97f95"/>
<rect x="287.07" y="225.69" width="3.2" height="3.2" fill="#c97f95"/>
<rect x="328.3" y="225.69" width="3.2" height="3.2" fill="#c97f95"/>
<circle cx="216.51" cy="244.16" r="1.95" fill="#3a2a1c"/>
<circle cx="226.82" cy="245" r="1.95" fill="#3a2a1c"/>
<circle cx="247.43" cy="238.96" r="1.95" fill="#3a2a1c"/>
<circle cx="288.67" cy="238.33" r="1.95" fill="#3a2a1c"/>
<circle cx="329.9" cy="238.33" r="1.95" fill="#3a2a1c"/>
<path d="M216.51 241.45L218.81 243.75L216.51 246.05L214.21 243.75Z" fill="#b01c42"/>
<path d="M226.82 232.7L229.12 235L226.82 237.3L224.52 235Z" fill="#b01c42"/>
<path d="M247.43 225.2L249.73 227.5L247.43 229.8L245.13 227.5Z" fill="#b01c42"/>
<path d="M288.67 207.71L290.97 210.01L288.67 212.31L286.37 210.01Z" fill="#b01c42"/>
<path d="M329.9 194.8L332.2 197.1L329.9 199.4L327.6 197.1Z" fill="#b01c42"/>
<circle cx="206.2" cy="255.2" r="1.75" fill="#1a3d58"/>
<circle cx="216.51" cy="246.45" r="1.75" fill="#1a3d58"/>
<circle cx="226.82" cy="241.46" r="1.75" fill="#1a3d58"/>
<circle cx="247.43" cy="233.96" r="1.75" fill="#1a3d58"/>
<circle cx="288.67" cy="228.34" r="1.75" fill="#1a3d58"/>
<circle cx="329.9" cy="213.97" r="1.75" fill="#1a3d58"/>
<path d="M206.2 252.6L208.8 255.2L206.2 257.8L203.6 255.2Z" fill="#23344a"/>
<path d="M379.6 169.1V255.2H506.1" fill="none" stroke="#222" stroke-width="1.15"/>
<path d="M376.3 255.2H379.6" stroke="#222" stroke-width="1"/>
<text x="374" y="257.65" font-size="7.8" text-anchor="end">0</text>
<path d="M376.3 227.43H379.6" stroke="#222" stroke-width="1"/>
<text x="374" y="229.88" font-size="7.8" text-anchor="end">100</text>
<path d="M376.3 199.67H379.6" stroke="#222" stroke-width="1"/>
<text x="374" y="202.12" font-size="7.8" text-anchor="end">200</text>
<path d="M376.3 171.9H379.6" stroke="#222" stroke-width="1"/>
<text x="374" y="174.35" font-size="7.8" text-anchor="end">300</text>
<path d="M379.6 255.2V258.4" stroke="#222" stroke-width="1"/>
<text x="379.6" y="267.6" font-size="7.8" text-anchor="middle">0</text>
<path d="M420.83 255.2V258.4" stroke="#222" stroke-width="1"/>
<text x="420.83" y="267.6" font-size="7.8" text-anchor="middle">2</text>
<path d="M462.07 255.2V258.4" stroke="#222" stroke-width="1"/>
<text x="462.07" y="267.6" font-size="7.8" text-anchor="middle">4</text>
<path d="M503.3 255.2V258.4" stroke="#222" stroke-width="1"/>
<text x="503.3" y="267.6" font-size="7.8" text-anchor="middle">6</text>
<text x="433.65" y="279.9" font-size="9.4" font-weight="bold" textLength="15.6" lengthAdjust="spacingAndGlyphs">Hours</text>
<text transform="translate(354.8 210.55) rotate(-90)" x="-20.9" y="0" font-size="8" font-weight="bold" style="stroke-width:0" textLength="41.8" lengthAdjust="spacingAndGlyphs">µmol/1e8 cells</text>
<text x="375.5" y="156.3" font-size="5.3" style="stroke-width:0.1px">13</text><text x="381.39" y="159.9" font-size="9.0">C</text><text x="387.89" y="162.8" font-size="5.3" style="stroke-width:0.1px">3</text><text x="390.84" y="159.9" font-size="9.0">-Dihydroxyacetone phosphate</text>
<path d="M379.6 255.2 L380.63 251.69 L381.66 248.51 L382.69 245.63 L383.72 243.03 L384.75 240.67 L385.79 238.54 L386.82 236.61 L387.85 234.86 L388.88 233.28 L389.91 231.86 L390.94 230.56 L391.97 229.39 L393 228.33 L394.03 227.38 L395.06 226.51 L396.09 225.73 L397.12 225.02 L398.16 224.37 L399.19 223.79 L400.22 223.27 L401.25 222.79 L402.28 222.36 L403.31 221.97 L404.34 221.62 L405.37 221.3 L406.4 221.01 L407.43 220.75 L408.46 220.52 L409.49 220.3 L410.53 220.11 L411.56 219.93 L412.59 219.78 L413.62 219.63 L414.65 219.5 L415.68 219.39 L416.71 219.28 L417.74 219.18 L418.77 219.1 L419.8 219.02 L420.83 218.95 L421.86 218.88 L422.9 218.82 L423.93 218.77 L424.96 218.72 L425.99 218.68 L427.02 218.64 L428.05 218.61 L429.08 218.57 L430.11 218.55 L431.14 218.52 L432.17 218.5 L433.2 218.47 L434.23 218.45 L435.27 218.44 L436.3 218.42 L437.33 218.41 L438.36 218.39 L439.39 218.38 L440.42 218.37 L441.45 218.36 L442.48 218.35 L443.51 218.35 L444.54 218.34 L445.57 218.33 L446.6 218.33 L447.63 218.32 L448.67 218.32 L449.7 218.31 L450.73 218.31 L451.76 218.3 L452.79 218.3 L453.82 218.3 L454.85 218.3 L455.88 218.29 L456.91 218.29 L457.94 218.29 L458.97 218.29 L460 218.29 L461.04 218.28 L462.07 218.28 L463.1 218.28 L464.13 218.28 L465.16 218.28 L466.19 218.28 L467.22 218.28 L468.25 218.28 L469.28 218.28 L470.31 218.28 L471.34 218.28 L472.38 218.27 L473.41 218.27 L474.44 218.27 L475.47 218.27 L476.5 218.27 L477.53 218.27 L478.56 218.27 L479.59 218.27 L480.62 218.27 L481.65 218.27 L482.68 218.27 L483.71 218.27 L484.75 218.27 L485.78 218.27 L486.81 218.27 L487.84 218.27 L488.87 218.27 L489.9 218.27 L490.93 218.27 L491.96 218.27 L492.99 218.27 L494.02 218.27 L495.05 218.27 L496.08 218.27 L497.12 218.27 L498.15 218.27 L499.18 218.27 L500.21 218.27 L501.24 218.27 L502.27 218.27 L503.3 218.27" fill="none" stroke="#d99eb0" stroke-width="1.1"/>
<path d="M379.6 255.2 L380.63 252.31 L381.66 249.72 L382.69 247.4 L383.72 245.32 L384.75 243.45 L385.79 241.78 L386.82 240.29 L387.85 238.95 L388.88 237.75 L389.91 236.68 L390.94 235.71 L391.97 234.85 L393 234.08 L394.03 233.39 L395.06 232.77 L396.09 232.21 L397.12 231.71 L398.16 231.27 L399.19 230.87 L400.22 230.51 L401.25 230.19 L402.28 229.9 L403.31 229.65 L404.34 229.41 L405.37 229.21 L406.4 229.02 L407.43 228.86 L408.46 228.71 L409.49 228.58 L410.53 228.46 L411.56 228.35 L412.59 228.26 L413.62 228.17 L414.65 228.09 L415.68 228.02 L416.71 227.96 L417.74 227.91 L418.77 227.86 L419.8 227.81 L420.83 227.77 L421.86 227.74 L422.9 227.71 L423.93 227.68 L424.96 227.65 L425.99 227.63 L427.02 227.61 L428.05 227.59 L429.08 227.57 L430.11 227.56 L431.14 227.55 L432.17 227.53 L433.2 227.52 L434.23 227.51 L435.27 227.51 L436.3 227.5 L437.33 227.49 L438.36 227.49 L439.39 227.48 L440.42 227.48 L441.45 227.47 L442.48 227.47 L443.51 227.46 L444.54 227.46 L445.57 227.46 L446.6 227.46 L447.63 227.45 L448.67 227.45 L449.7 227.45 L450.73 227.45 L451.76 227.45 L452.79 227.44 L453.82 227.44 L454.85 227.44 L455.88 227.44 L456.91 227.44 L457.94 227.44 L458.97 227.44 L460 227.44 L461.04 227.44 L462.07 227.44 L463.1 227.44 L464.13 227.44 L465.16 227.44 L466.19 227.44 L467.22 227.44 L468.25 227.44 L469.28 227.44 L470.31 227.44 L471.34 227.43 L472.38 227.43 L473.41 227.43 L474.44 227.43 L475.47 227.43 L476.5 227.43 L477.53 227.43 L478.56 227.43 L479.59 227.43 L480.62 227.43 L481.65 227.43 L482.68 227.43 L483.71 227.43 L484.75 227.43 L485.78 227.43 L486.81 227.43 L487.84 227.43 L488.87 227.43 L489.9 227.43 L490.93 227.43 L491.96 227.43 L492.99 227.43 L494.02 227.43 L495.05 227.43 L496.08 227.43 L497.12 227.43 L498.15 227.43 L499.18 227.43 L500.21 227.43 L501.24 227.43 L502.27 227.43 L503.3 227.43" fill="none" stroke="#4b3b2e" stroke-width="1.1"/>
<path d="M379.6 255.2 L380.63 252.35 L381.66 249.65 L382.69 247.09 L383.72 244.67 L384.75 242.38 L385.79 240.22 L386.82 238.16 L387.85 236.22 L388.88 234.39 L389.91 232.65 L390.94 231 L391.97 229.44 L393 227.97 L394.03 226.57 L395.06 225.25 L396.09 224 L397.12 222.82 L398.16 221.7 L399.19 220.64 L400.22 219.63 L401.25 218.68 L402.28 217.79 L403.31 216.93 L404.34 216.13 L405.37 215.37 L406.4 214.65 L407.43 213.96 L408.46 213.32 L409.49 212.71 L410.53 212.13 L411.56 211.58 L412.59 211.06 L413.62 210.57 L414.65 210.1 L415.68 209.66 L416.71 209.25 L417.74 208.85 L418.77 208.48 L419.8 208.13 L420.83 207.8 L421.86 207.48 L422.9 207.18 L423.93 206.9 L424.96 206.63 L425.99 206.37 L427.02 206.13 L428.05 205.91 L429.08 205.69 L430.11 205.49 L431.14 205.3 L432.17 205.11 L433.2 204.94 L434.23 204.78 L435.27 204.62 L436.3 204.48 L437.33 204.34 L438.36 204.21 L439.39 204.08 L440.42 203.97 L441.45 203.85 L442.48 203.75 L443.51 203.65 L444.54 203.56 L445.57 203.47 L446.6 203.38 L447.63 203.3 L448.67 203.23 L449.7 203.15 L450.73 203.09 L451.76 203.02 L452.79 202.96 L453.82 202.9 L454.85 202.85 L455.88 202.8 L456.91 202.75 L457.94 202.7 L458.97 202.66 L460 202.62 L461.04 202.58 L462.07 202.54 L463.1 202.51 L464.13 202.47 L465.16 202.44 L466.19 202.41 L467.22 202.39 L468.25 202.36 L469.28 202.33 L470.31 202.31 L471.34 202.29 L472.38 202.27 L473.41 202.25 L474.44 202.23 L475.47 202.21 L476.5 202.19 L477.53 202.17 L478.56 202.16 L479.59 202.14 L480.62 202.13 L481.65 202.12 L482.68 202.11 L483.71 202.09 L484.75 202.08 L485.78 202.07 L486.81 202.06 L487.84 202.05 L488.87 202.04 L489.9 202.04 L490.93 202.03 L491.96 202.02 L492.99 202.01 L494.02 202.01 L495.05 202 L496.08 201.99 L497.12 201.99 L498.15 201.98 L499.18 201.98 L500.21 201.97 L501.24 201.97 L502.27 201.96 L503.3 201.96" fill="none" stroke="#2a5778" stroke-width="1.1"/>
<path d="M379.6 255.2 L380.63 251.87 L381.66 248.72 L382.69 245.73 L383.72 242.9 L384.75 240.21 L385.79 237.66 L386.82 235.25 L387.85 232.96 L388.88 230.8 L389.91 228.74 L390.94 226.79 L391.97 224.94 L393 223.19 L394.03 221.53 L395.06 219.96 L396.09 218.47 L397.12 217.06 L398.16 215.72 L399.19 214.45 L400.22 213.24 L401.25 212.1 L402.28 211.02 L403.31 209.99 L404.34 209.02 L405.37 208.1 L406.4 207.23 L407.43 206.4 L408.46 205.62 L409.49 204.87 L410.53 204.17 L411.56 203.5 L412.59 202.86 L413.62 202.26 L414.65 201.69 L415.68 201.15 L416.71 200.64 L417.74 200.16 L418.77 199.7 L419.8 199.26 L420.83 198.85 L421.86 198.46 L422.9 198.09 L423.93 197.74 L424.96 197.4 L425.99 197.09 L427.02 196.79 L428.05 196.5 L429.08 196.23 L430.11 195.98 L431.14 195.74 L432.17 195.51 L433.2 195.29 L434.23 195.08 L435.27 194.89 L436.3 194.7 L437.33 194.53 L438.36 194.36 L439.39 194.21 L440.42 194.06 L441.45 193.91 L442.48 193.78 L443.51 193.65 L444.54 193.53 L445.57 193.42 L446.6 193.31 L447.63 193.21 L448.67 193.11 L449.7 193.02 L450.73 192.93 L451.76 192.85 L452.79 192.77 L453.82 192.69 L454.85 192.62 L455.88 192.56 L456.91 192.49 L457.94 192.43 L458.97 192.37 L460 192.32 L461.04 192.27 L462.07 192.22 L463.1 192.17 L464.13 192.13 L465.16 192.09 L466.19 192.05 L467.22 192.01 L468.25 191.98 L469.28 191.94 L470.31 191.91 L471.34 191.88 L472.38 191.85 L473.41 191.83 L474.44 191.8 L475.47 191.78 L476.5 191.75 L477.53 191.73 L478.56 191.71 L479.59 191.69 L480.62 191.67 L481.65 191.66 L482.68 191.64 L483.71 191.62 L484.75 191.61 L485.78 191.59 L486.81 191.58 L487.84 191.57 L488.87 191.56 L489.9 191.55 L490.93 191.53 L491.96 191.52 L492.99 191.51 L494.02 191.51 L495.05 191.5 L496.08 191.49 L497.12 191.48 L498.15 191.47 L499.18 191.47 L500.21 191.46 L501.24 191.45 L502.27 191.45 L503.3 191.44" fill="none" stroke="#c92f55" stroke-width="1.1"/>
<path d="M389.91 230.21V234.65M388.61 230.21H391.21M388.61 234.65H391.21" stroke="#2f5f7f" stroke-width="0.85" fill="none"/>
<path d="M400.22 219.1V227.43M398.92 219.1H401.52M398.92 227.43H401.52" stroke="#2f5f7f" stroke-width="0.85" fill="none"/>
<path d="M420.83 206.61V214.94M419.53 206.61H422.13M419.53 214.94H422.13" stroke="#2f5f7f" stroke-width="0.85" fill="none"/>
<path d="M462.07 196.33V216.88M460.77 196.33H463.37M460.77 216.88H463.37" stroke="#2f5f7f" stroke-width="0.85" fill="none"/>
<path d="M503.3 191.89V203M502 191.89H504.6M502 203H504.6" stroke="#2f5f7f" stroke-width="0.85" fill="none"/>
<rect x="379.71" y="246.66" width="3.2" height="3.2" fill="#c97f95"/>
<rect x="388.31" y="229.17" width="3.2" height="3.2" fill="#c97f95"/>
<rect x="398.62" y="223.33" width="3.2" height="3.2" fill="#c97f95"/>
<rect x="419.23" y="214.17" width="3.2" height="3.2" fill="#c97f95"/>
<rect x="460.47" y="220.42" width="3.2" height="3.2" fill="#c97f95"/>
<rect x="501.7" y="216.67" width="3.2" height="3.2" fill="#c97f95"/>
<circle cx="381.31" cy="249.65" r="1.95" fill="#3a2a1c"/>
<circle cx="389.91" cy="237.01" r="1.95" fill="#3a2a1c"/>
<circle cx="400.22" cy="231.6" r="1.95" fill="#3a2a1c"/>
<circle cx="420.83" cy="227.43" r="1.95" fill="#3a2a1c"/>
<circle cx="462.07" cy="224.1" r="1.95" fill="#3a2a1c"/>
<circle cx="503.3" cy="231.04" r="1.95" fill="#3a2a1c"/>
<path d="M381.31 244.71L383.61 247.01L381.31 249.31L379.01 247.01Z" fill="#b01c42"/>
<path d="M389.91 227.22L392.21 229.52L389.91 231.82L387.61 229.52Z" fill="#b01c42"/>
<path d="M400.22 212.22L402.52 214.52L400.22 216.82L397.92 214.52Z" fill="#b01c42"/>
<path d="M420.83 204.31L423.13 206.61L420.83 208.91L418.53 206.61Z" fill="#b01c42"/>
<path d="M462.07 192.23L464.37 194.53L462.07 196.83L459.77 194.53Z" fill="#b01c42"/>
<path d="M503.3 185.98L505.6 188.28L503.3 190.58L501 188.28Z" fill="#b01c42"/>
<circle cx="379.6" cy="255.2" r="1.75" fill="#1a3d58"/>
<circle cx="381.31" cy="251.31" r="1.75" fill="#1a3d58"/>
<circle cx="389.91" cy="232.43" r="1.75" fill="#1a3d58"/>
<circle cx="400.22" cy="223.27" r="1.75" fill="#1a3d58"/>
<circle cx="420.83" cy="210.77" r="1.75" fill="#1a3d58"/>
<circle cx="462.07" cy="206.61" r="1.75" fill="#1a3d58"/>
<circle cx="503.3" cy="197.45" r="1.75" fill="#1a3d58"/>
<path d="M379.6 252.6L382.2 255.2L379.6 257.8L377 255.2Z" fill="#23344a"/>
<path d="M38.5 311.5V397.6H165" fill="none" stroke="#222" stroke-width="1.15"/>
<path d="M35.2 397.6H38.5" stroke="#222" stroke-width="1"/>
<text x="32.9" y="400.05" font-size="7.8" text-anchor="end">0</text>
<path d="M35.2 380.94H38.5" stroke="#222" stroke-width="1"/>
<text x="32.9" y="383.39" font-size="7.8" text-anchor="end">20</text>
<path d="M35.2 364.28H38.5" stroke="#222" stroke-width="1"/>
<text x="32.9" y="366.73" font-size="7.8" text-anchor="end">40</text>
<path d="M35.2 347.62H38.5" stroke="#222" stroke-width="1"/>
<text x="32.9" y="350.07" font-size="7.8" text-anchor="end">60</text>
<path d="M35.2 330.96H38.5" stroke="#222" stroke-width="1"/>
<text x="32.9" y="333.41" font-size="7.8" text-anchor="end">80</text>
<path d="M35.2 314.3H38.5" stroke="#222" stroke-width="1"/>
<text x="32.9" y="316.75" font-size="7.8" text-anchor="end">100</text>
<path d="M38.5 397.6V400.8" stroke="#222" stroke-width="1"/>
<text x="38.5" y="410" font-size="7.8" text-anchor="middle">0</text>
<path d="M79.73 397.6V400.8" stroke="#222" stroke-width="1"/>
<text x="79.73" y="410" font-size="7.8" text-anchor="middle">2</text>
<path d="M120.97 397.6V400.8" stroke="#222" stroke-width="1"/>
<text x="120.97" y="410" font-size="7.8" text-anchor="middle">4</text>
<path d="M162.2 397.6V400.8" stroke="#222" stroke-width="1"/>
<text x="162.2" y="410" font-size="7.8" text-anchor="middle">6</text>
<text x="92.55" y="422.3" font-size="9.4" font-weight="bold" textLength="15.6" lengthAdjust="spacingAndGlyphs">Hours</text>
<text transform="translate(13.7 352.95) rotate(-90)" x="-20.9" y="0" font-size="8" font-weight="bold" style="stroke-width:0" textLength="41.8" lengthAdjust="spacingAndGlyphs">µmol/1e8 cells</text>
<text x="52.91" y="298.7" font-size="5.3" style="stroke-width:0.1px">13</text><text x="58.8" y="302.3" font-size="9.0">C</text><text x="65.3" y="305.2" font-size="5.3" style="stroke-width:0.1px">3</text><text x="68.25" y="302.3" font-size="9.0">-Diphosphoglycerate</text>
<path d="M38.5 397.6 L39.53 396.3 L40.56 395.04 L41.59 393.83 L42.62 392.67 L43.65 391.55 L44.69 390.47 L45.72 389.43 L46.75 388.43 L47.78 387.47 L48.81 386.54 L49.84 385.65 L50.87 384.79 L51.9 383.96 L52.93 383.17 L53.96 382.4 L54.99 381.66 L56.02 380.95 L57.05 380.27 L58.09 379.61 L59.12 378.98 L60.15 378.37 L61.18 377.78 L62.21 377.21 L63.24 376.67 L64.27 376.14 L65.3 375.64 L66.33 375.15 L67.36 374.69 L68.39 374.24 L69.42 373.8 L70.46 373.39 L71.49 372.98 L72.52 372.6 L73.55 372.23 L74.58 371.87 L75.61 371.52 L76.64 371.19 L77.67 370.87 L78.7 370.56 L79.73 370.27 L80.76 369.98 L81.8 369.71 L82.83 369.44 L83.86 369.19 L84.89 368.94 L85.92 368.71 L86.95 368.48 L87.98 368.26 L89.01 368.05 L90.04 367.85 L91.07 367.65 L92.1 367.46 L93.13 367.28 L94.16 367.11 L95.2 366.94 L96.23 366.78 L97.26 366.62 L98.29 366.48 L99.32 366.33 L100.35 366.19 L101.38 366.06 L102.41 365.93 L103.44 365.81 L104.47 365.69 L105.5 365.57 L106.53 365.46 L107.57 365.36 L108.6 365.25 L109.63 365.16 L110.66 365.06 L111.69 364.97 L112.72 364.88 L113.75 364.8 L114.78 364.72 L115.81 364.64 L116.84 364.56 L117.87 364.49 L118.91 364.42 L119.94 364.35 L120.97 364.29 L122 364.23 L123.03 364.17 L124.06 364.11 L125.09 364.05 L126.12 364 L127.15 363.95 L128.18 363.9 L129.21 363.85 L130.24 363.8 L131.28 363.76 L132.31 363.72 L133.34 363.67 L134.37 363.64 L135.4 363.6 L136.43 363.56 L137.46 363.53 L138.49 363.49 L139.52 363.46 L140.55 363.43 L141.58 363.4 L142.61 363.37 L143.64 363.34 L144.68 363.31 L145.71 363.29 L146.74 363.26 L147.77 363.24 L148.8 363.21 L149.83 363.19 L150.86 363.17 L151.89 363.15 L152.92 363.13 L153.95 363.11 L154.98 363.09 L156.02 363.07 L157.05 363.06 L158.08 363.04 L159.11 363.02 L160.14 363.01 L161.17 362.99 L162.2 362.98" fill="none" stroke="#d99eb0" stroke-width="1.1"/>
<path d="M38.5 397.6 L39.53 395.09 L40.56 392.69 L41.59 390.39 L42.62 388.19 L43.65 386.08 L44.69 384.07 L45.72 382.14 L46.75 380.3 L47.78 378.53 L48.81 376.84 L49.84 375.23 L50.87 373.68 L51.9 372.2 L52.93 370.78 L53.96 369.43 L54.99 368.13 L56.02 366.89 L57.05 365.7 L58.09 364.56 L59.12 363.48 L60.15 362.43 L61.18 361.44 L62.21 360.49 L63.24 359.57 L64.27 358.7 L65.3 357.86 L66.33 357.06 L67.36 356.3 L68.39 355.57 L69.42 354.87 L70.46 354.2 L71.49 353.55 L72.52 352.94 L73.55 352.35 L74.58 351.79 L75.61 351.25 L76.64 350.74 L77.67 350.24 L78.7 349.77 L79.73 349.32 L80.76 348.89 L81.8 348.48 L82.83 348.08 L83.86 347.7 L84.89 347.34 L85.92 346.99 L86.95 346.66 L87.98 346.35 L89.01 346.04 L90.04 345.75 L91.07 345.47 L92.1 345.21 L93.13 344.95 L94.16 344.71 L95.2 344.48 L96.23 344.25 L97.26 344.04 L98.29 343.83 L99.32 343.64 L100.35 343.45 L101.38 343.27 L102.41 343.1 L103.44 342.94 L104.47 342.78 L105.5 342.63 L106.53 342.49 L107.57 342.35 L108.6 342.22 L109.63 342.09 L110.66 341.97 L111.69 341.85 L112.72 341.74 L113.75 341.64 L114.78 341.54 L115.81 341.44 L116.84 341.35 L117.87 341.26 L118.91 341.17 L119.94 341.09 L120.97 341.02 L122 340.94 L123.03 340.87 L124.06 340.8 L125.09 340.74 L126.12 340.68 L127.15 340.62 L128.18 340.56 L129.21 340.5 L130.24 340.45 L131.28 340.4 L132.31 340.35 L133.34 340.31 L134.37 340.26 L135.4 340.22 L136.43 340.18 L137.46 340.14 L138.49 340.11 L139.52 340.07 L140.55 340.04 L141.58 340.01 L142.61 339.98 L143.64 339.95 L144.68 339.92 L145.71 339.89 L146.74 339.86 L147.77 339.84 L148.8 339.82 L149.83 339.79 L150.86 339.77 L151.89 339.75 L152.92 339.73 L153.95 339.71 L154.98 339.69 L156.02 339.68 L157.05 339.66 L158.08 339.64 L159.11 339.63 L160.14 339.61 L161.17 339.6 L162.2 339.59" fill="none" stroke="#4b3b2e" stroke-width="1.1"/>
<path d="M38.5 397.6 L39.53 396.83 L40.56 396.07 L41.59 395.34 L42.62 394.63 L43.65 393.95 L44.69 393.28 L45.72 392.63 L46.75 391.99 L47.78 391.38 L48.81 390.78 L49.84 390.21 L50.87 389.64 L51.9 389.1 L52.93 388.57 L53.96 388.05 L54.99 387.55 L56.02 387.06 L57.05 386.59 L58.09 386.13 L59.12 385.69 L60.15 385.25 L61.18 384.83 L62.21 384.42 L63.24 384.03 L64.27 383.64 L65.3 383.26 L66.33 382.9 L67.36 382.55 L68.39 382.2 L69.42 381.87 L70.46 381.55 L71.49 381.23 L72.52 380.92 L73.55 380.63 L74.58 380.34 L75.61 380.06 L76.64 379.79 L77.67 379.52 L78.7 379.26 L79.73 379.01 L80.76 378.77 L81.8 378.54 L82.83 378.31 L83.86 378.08 L84.89 377.87 L85.92 377.66 L86.95 377.46 L87.98 377.26 L89.01 377.06 L90.04 376.88 L91.07 376.7 L92.1 376.52 L93.13 376.35 L94.16 376.18 L95.2 376.02 L96.23 375.86 L97.26 375.71 L98.29 375.56 L99.32 375.42 L100.35 375.28 L101.38 375.14 L102.41 375.01 L103.44 374.88 L104.47 374.76 L105.5 374.64 L106.53 374.52 L107.57 374.41 L108.6 374.3 L109.63 374.19 L110.66 374.08 L111.69 373.98 L112.72 373.88 L113.75 373.79 L114.78 373.69 L115.81 373.6 L116.84 373.52 L117.87 373.43 L118.91 373.35 L119.94 373.27 L120.97 373.19 L122 373.11 L123.03 373.04 L124.06 372.97 L125.09 372.9 L126.12 372.83 L127.15 372.76 L128.18 372.7 L129.21 372.64 L130.24 372.58 L131.28 372.52 L132.31 372.46 L133.34 372.41 L134.37 372.35 L135.4 372.3 L136.43 372.25 L137.46 372.2 L138.49 372.15 L139.52 372.11 L140.55 372.06 L141.58 372.02 L142.61 371.97 L143.64 371.93 L144.68 371.89 L145.71 371.85 L146.74 371.82 L147.77 371.78 L148.8 371.74 L149.83 371.71 L150.86 371.67 L151.89 371.64 L152.92 371.61 L153.95 371.58 L154.98 371.55 L156.02 371.52 L157.05 371.49 L158.08 371.46 L159.11 371.44 L160.14 371.41 L161.17 371.39 L162.2 371.36" fill="none" stroke="#2a5778" stroke-width="1.1"/>
<path d="M38.5 397.6 L39.53 396.45 L40.56 395.32 L41.59 394.23 L42.62 393.17 L43.65 392.13 L44.69 391.12 L45.72 390.14 L46.75 389.19 L47.78 388.26 L48.81 387.35 L49.84 386.47 L50.87 385.61 L51.9 384.78 L52.93 383.97 L53.96 383.17 L54.99 382.41 L56.02 381.66 L57.05 380.93 L58.09 380.22 L59.12 379.53 L60.15 378.85 L61.18 378.2 L62.21 377.56 L63.24 376.94 L64.27 376.34 L65.3 375.75 L66.33 375.18 L67.36 374.62 L68.39 374.08 L69.42 373.55 L70.46 373.04 L71.49 372.54 L72.52 372.05 L73.55 371.58 L74.58 371.12 L75.61 370.67 L76.64 370.24 L77.67 369.81 L78.7 369.4 L79.73 368.99 L80.76 368.6 L81.8 368.22 L82.83 367.85 L83.86 367.49 L84.89 367.14 L85.92 366.79 L86.95 366.46 L87.98 366.14 L89.01 365.82 L90.04 365.51 L91.07 365.21 L92.1 364.92 L93.13 364.64 L94.16 364.36 L95.2 364.1 L96.23 363.83 L97.26 363.58 L98.29 363.33 L99.32 363.09 L100.35 362.86 L101.38 362.63 L102.41 362.41 L103.44 362.19 L104.47 361.98 L105.5 361.77 L106.53 361.57 L107.57 361.38 L108.6 361.19 L109.63 361.01 L110.66 360.83 L111.69 360.65 L112.72 360.48 L113.75 360.32 L114.78 360.16 L115.81 360 L116.84 359.85 L117.87 359.7 L118.91 359.56 L119.94 359.42 L120.97 359.28 L122 359.15 L123.03 359.02 L124.06 358.89 L125.09 358.77 L126.12 358.65 L127.15 358.53 L128.18 358.42 L129.21 358.31 L130.24 358.2 L131.28 358.1 L132.31 358 L133.34 357.9 L134.37 357.8 L135.4 357.71 L136.43 357.62 L137.46 357.53 L138.49 357.44 L139.52 357.36 L140.55 357.27 L141.58 357.2 L142.61 357.12 L143.64 357.04 L144.68 356.97 L145.71 356.9 L146.74 356.83 L147.77 356.76 L148.8 356.69 L149.83 356.63 L150.86 356.57 L151.89 356.51 L152.92 356.45 L153.95 356.39 L154.98 356.33 L156.02 356.28 L157.05 356.23 L158.08 356.17 L159.11 356.12 L160.14 356.07 L161.17 356.03 L162.2 355.98" fill="none" stroke="#c92f55" stroke-width="1.1"/>
<path d="M48.81 386.94V393.6M47.51 386.94H50.11M47.51 393.6H50.11" stroke="#2f5f7f" stroke-width="0.85" fill="none"/>
<path d="M59.12 380.19V391.85M57.82 380.19H60.42M57.82 391.85H60.42" stroke="#2f5f7f" stroke-width="0.85" fill="none"/>
<path d="M79.73 371.03V386.02M78.43 371.03H81.03M78.43 386.02H81.03" stroke="#2f5f7f" stroke-width="0.85" fill="none"/>
<path d="M120.97 363.2V379.86M119.67 363.2H122.27M119.67 379.86H122.27" stroke="#2f5f7f" stroke-width="0.85" fill="none"/>
<path d="M162.2 363.2V379.86M160.9 363.2H163.5M160.9 379.86H163.5" stroke="#2f5f7f" stroke-width="0.85" fill="none"/>
<rect x="47.21" y="384.34" width="3.2" height="3.2" fill="#c97f95"/>
<rect x="57.52" y="377.92" width="3.2" height="3.2" fill="#c97f95"/>
<rect x="78.13" y="369.34" width="3.2" height="3.2" fill="#c97f95"/>
<rect x="119.37" y="361.85" width="3.2" height="3.2" fill="#c97f95"/>
<rect x="160.6" y="361.85" width="3.2" height="3.2" fill="#c97f95"/>
<circle cx="48.81" cy="379.02" r="1.95" fill="#3a2a1c"/>
<circle cx="59.12" cy="365.28" r="1.95" fill="#3a2a1c"/>
<circle cx="79.73" cy="350.79" r="1.95" fill="#3a2a1c"/>
<circle cx="120.97" cy="337.04" r="1.95" fill="#3a2a1c"/>
<circle cx="162.2" cy="343.29" r="1.95" fill="#3a2a1c"/>
<path d="M48.81 383.64L51.11 385.94L48.81 388.24L46.51 385.94Z" fill="#b01c42"/>
<path d="M59.12 377.97L61.42 380.27L59.12 382.57L56.82 380.27Z" fill="#b01c42"/>
<path d="M79.73 367.98L82.03 370.28L79.73 372.58L77.43 370.28Z" fill="#b01c42"/>
<path d="M120.97 354.23L123.27 356.53L120.97 358.83L118.67 356.53Z" fill="#b01c42"/>
<path d="M162.2 353.65L164.5 355.95L162.2 358.25L159.9 355.95Z" fill="#b01c42"/>
<circle cx="38.5" cy="397.6" r="1.75" fill="#1a3d58"/>
<circle cx="48.81" cy="390.27" r="1.75" fill="#1a3d58"/>
<circle cx="59.12" cy="386.02" r="1.75" fill="#1a3d58"/>
<circle cx="79.73" cy="378.52" r="1.75" fill="#1a3d58"/>
<circle cx="120.97" cy="371.53" r="1.75" fill="#1a3d58"/>
<circle cx="162.2" cy="371.53" r="1.75" fill="#1a3d58"/>
<path d="M38.5 395L41.1 397.6L38.5 400.2L35.9 397.6Z" fill="#23344a"/>
<path d="M206.2 311.5V397.6H332.7" fill="none" stroke="#222" stroke-width="1.15"/>
<path d="M202.9 397.6H206.2" stroke="#222" stroke-width="1"/>
<text x="200.6" y="400.05" font-size="7.8" text-anchor="end">0</text>
<path d="M202.9 369.83H206.2" stroke="#222" stroke-width="1"/>
<text x="200.6" y="372.28" font-size="7.8" text-anchor="end">50</text>
<path d="M202.9 342.07H206.2" stroke="#222" stroke-width="1"/>
<text x="200.6" y="344.52" font-size="7.8" text-anchor="end">100</text>
<path d="M202.9 314.3H206.2" stroke="#222" stroke-width="1"/>
<text x="200.6" y="316.75" font-size="7.8" text-anchor="end">150</text>
<path d="M206.2 397.6V400.8" stroke="#222" stroke-width="1"/>
<text x="206.2" y="410" font-size="7.8" text-anchor="middle">0</text>
<path d="M247.43 397.6V400.8" stroke="#222" stroke-width="1"/>
<text x="247.43" y="410" font-size="7.8" text-anchor="middle">2</text>
<path d="M288.67 397.6V400.8" stroke="#222" stroke-width="1"/>
<text x="288.67" y="410" font-size="7.8" text-anchor="middle">4</text>
<path d="M329.9 397.6V400.8" stroke="#222" stroke-width="1"/>
<text x="329.9" y="410" font-size="7.8" text-anchor="middle">6</text>
<text x="260.25" y="422.3" font-size="9.4" font-weight="bold" textLength="15.6" lengthAdjust="spacingAndGlyphs">Hours</text>
<text transform="translate(181.4 352.95) rotate(-90)" x="-20.9" y="0" font-size="8" font-weight="bold" style="stroke-width:0" textLength="41.8" lengthAdjust="spacingAndGlyphs">µmol/1e8 cells</text>
<text x="224.36" y="298.7" font-size="5.3" style="stroke-width:0.1px">13</text><text x="230.25" y="302.3" font-size="9.0">C</text><text x="236.75" y="305.2" font-size="5.3" style="stroke-width:0.1px">3</text><text x="239.7" y="302.3" font-size="9.0">-Phosphoglycerate</text>
<path d="M206.2 397.6 L207.23 395.88 L208.26 394.21 L209.29 392.6 L210.32 391.03 L211.35 389.52 L212.38 388.06 L213.42 386.64 L214.45 385.27 L215.48 383.94 L216.51 382.65 L217.54 381.41 L218.57 380.2 L219.6 379.04 L220.63 377.91 L221.66 376.82 L222.69 375.76 L223.72 374.73 L224.75 373.74 L225.79 372.78 L226.82 371.85 L227.85 370.95 L228.88 370.08 L229.91 369.24 L230.94 368.43 L231.97 367.64 L233 366.87 L234.03 366.13 L235.06 365.42 L236.09 364.72 L237.12 364.05 L238.16 363.4 L239.19 362.77 L240.22 362.16 L241.25 361.57 L242.28 361 L243.31 360.45 L244.34 359.92 L245.37 359.4 L246.4 358.9 L247.43 358.41 L248.46 357.94 L249.5 357.49 L250.53 357.05 L251.56 356.62 L252.59 356.21 L253.62 355.81 L254.65 355.43 L255.68 355.05 L256.71 354.69 L257.74 354.34 L258.77 354 L259.8 353.67 L260.83 353.35 L261.87 353.05 L262.9 352.75 L263.93 352.46 L264.96 352.18 L265.99 351.91 L267.02 351.65 L268.05 351.4 L269.08 351.15 L270.11 350.91 L271.14 350.68 L272.17 350.46 L273.2 350.25 L274.24 350.04 L275.27 349.84 L276.3 349.64 L277.33 349.45 L278.36 349.27 L279.39 349.09 L280.42 348.92 L281.45 348.76 L282.48 348.6 L283.51 348.44 L284.54 348.29 L285.57 348.14 L286.61 348 L287.64 347.87 L288.67 347.73 L289.7 347.61 L290.73 347.48 L291.76 347.36 L292.79 347.25 L293.82 347.13 L294.85 347.02 L295.88 346.92 L296.91 346.82 L297.94 346.72 L298.98 346.62 L300.01 346.53 L301.04 346.44 L302.07 346.35 L303.1 346.27 L304.13 346.19 L305.16 346.11 L306.19 346.04 L307.22 345.96 L308.25 345.89 L309.28 345.82 L310.31 345.75 L311.34 345.69 L312.38 345.63 L313.41 345.57 L314.44 345.51 L315.47 345.45 L316.5 345.4 L317.53 345.34 L318.56 345.29 L319.59 345.24 L320.62 345.19 L321.65 345.15 L322.68 345.1 L323.72 345.06 L324.75 345.02 L325.78 344.97 L326.81 344.93 L327.84 344.9 L328.87 344.86 L329.9 344.82" fill="none" stroke="#d99eb0" stroke-width="1.1"/>
<path d="M206.2 397.6 L207.23 395.18 L208.26 392.85 L209.29 390.6 L210.32 388.43 L211.35 386.34 L212.38 384.33 L213.42 382.39 L214.45 380.53 L215.48 378.73 L216.51 376.99 L217.54 375.32 L218.57 373.71 L219.6 372.15 L220.63 370.66 L221.66 369.22 L222.69 367.83 L223.72 366.49 L224.75 365.2 L225.79 363.95 L226.82 362.75 L227.85 361.6 L228.88 360.49 L229.91 359.41 L230.94 358.38 L231.97 357.38 L233 356.43 L234.03 355.5 L235.06 354.61 L236.09 353.75 L237.12 352.92 L238.16 352.12 L239.19 351.36 L240.22 350.61 L241.25 349.9 L242.28 349.21 L243.31 348.55 L244.34 347.91 L245.37 347.29 L246.4 346.7 L247.43 346.13 L248.46 345.58 L249.5 345.05 L250.53 344.54 L251.56 344.04 L252.59 343.57 L253.62 343.11 L254.65 342.67 L255.68 342.24 L256.71 341.83 L257.74 341.44 L258.77 341.06 L259.8 340.69 L260.83 340.34 L261.87 340 L262.9 339.67 L263.93 339.35 L264.96 339.05 L265.99 338.75 L267.02 338.47 L268.05 338.2 L269.08 337.93 L270.11 337.68 L271.14 337.44 L272.17 337.2 L273.2 336.98 L274.24 336.76 L275.27 336.55 L276.3 336.34 L277.33 336.15 L278.36 335.96 L279.39 335.78 L280.42 335.6 L281.45 335.43 L282.48 335.27 L283.51 335.11 L284.54 334.96 L285.57 334.82 L286.61 334.68 L287.64 334.54 L288.67 334.41 L289.7 334.29 L290.73 334.17 L291.76 334.05 L292.79 333.94 L293.82 333.83 L294.85 333.73 L295.88 333.63 L296.91 333.53 L297.94 333.44 L298.98 333.35 L300.01 333.26 L301.04 333.18 L302.07 333.09 L303.1 333.02 L304.13 332.94 L305.16 332.87 L306.19 332.8 L307.22 332.73 L308.25 332.67 L309.28 332.61 L310.31 332.55 L311.34 332.49 L312.38 332.43 L313.41 332.38 L314.44 332.33 L315.47 332.28 L316.5 332.23 L317.53 332.19 L318.56 332.14 L319.59 332.1 L320.62 332.06 L321.65 332.02 L322.68 331.98 L323.72 331.94 L324.75 331.91 L325.78 331.87 L326.81 331.84 L327.84 331.81 L328.87 331.78 L329.9 331.75" fill="none" stroke="#4b3b2e" stroke-width="1.1"/>
<path d="M206.2 397.6 L207.23 397.33 L208.26 397.08 L209.29 396.83 L210.32 396.58 L211.35 396.35 L212.38 396.12 L213.42 395.91 L214.45 395.69 L215.48 395.49 L216.51 395.29 L217.54 395.1 L218.57 394.91 L219.6 394.73 L220.63 394.55 L221.66 394.39 L222.69 394.22 L223.72 394.06 L224.75 393.91 L225.79 393.76 L226.82 393.62 L227.85 393.48 L228.88 393.34 L229.91 393.21 L230.94 393.09 L231.97 392.97 L233 392.85 L234.03 392.73 L235.06 392.62 L236.09 392.52 L237.12 392.41 L238.16 392.31 L239.19 392.21 L240.22 392.12 L241.25 392.03 L242.28 391.94 L243.31 391.86 L244.34 391.77 L245.37 391.69 L246.4 391.62 L247.43 391.54 L248.46 391.47 L249.5 391.4 L250.53 391.33 L251.56 391.26 L252.59 391.2 L253.62 391.14 L254.65 391.08 L255.68 391.02 L256.71 390.96 L257.74 390.91 L258.77 390.86 L259.8 390.81 L260.83 390.76 L261.87 390.71 L262.9 390.66 L263.93 390.62 L264.96 390.58 L265.99 390.53 L267.02 390.49 L268.05 390.46 L269.08 390.42 L270.11 390.38 L271.14 390.35 L272.17 390.31 L273.2 390.28 L274.24 390.25 L275.27 390.21 L276.3 390.18 L277.33 390.15 L278.36 390.13 L279.39 390.1 L280.42 390.07 L281.45 390.05 L282.48 390.02 L283.51 390 L284.54 389.97 L285.57 389.95 L286.61 389.93 L287.64 389.91 L288.67 389.89 L289.7 389.87 L290.73 389.85 L291.76 389.83 L292.79 389.81 L293.82 389.8 L294.85 389.78 L295.88 389.76 L296.91 389.75 L297.94 389.73 L298.98 389.72 L300.01 389.7 L301.04 389.69 L302.07 389.68 L303.1 389.66 L304.13 389.65 L305.16 389.64 L306.19 389.63 L307.22 389.61 L308.25 389.6 L309.28 389.59 L310.31 389.58 L311.34 389.57 L312.38 389.56 L313.41 389.55 L314.44 389.54 L315.47 389.54 L316.5 389.53 L317.53 389.52 L318.56 389.51 L319.59 389.5 L320.62 389.5 L321.65 389.49 L322.68 389.48 L323.72 389.47 L324.75 389.47 L325.78 389.46 L326.81 389.46 L327.84 389.45 L328.87 389.44 L329.9 389.44" fill="none" stroke="#2a5778" stroke-width="1.1"/>
<path d="M206.2 397.6 L207.23 397.09 L208.26 396.6 L209.29 396.12 L210.32 395.65 L211.35 395.2 L212.38 394.76 L213.42 394.34 L214.45 393.93 L215.48 393.53 L216.51 393.14 L217.54 392.76 L218.57 392.4 L219.6 392.04 L220.63 391.7 L221.66 391.36 L222.69 391.04 L223.72 390.72 L224.75 390.42 L225.79 390.12 L226.82 389.83 L227.85 389.55 L228.88 389.28 L229.91 389.02 L230.94 388.76 L231.97 388.52 L233 388.28 L234.03 388.04 L235.06 387.82 L236.09 387.6 L237.12 387.38 L238.16 387.18 L239.19 386.98 L240.22 386.78 L241.25 386.59 L242.28 386.41 L243.31 386.23 L244.34 386.06 L245.37 385.89 L246.4 385.73 L247.43 385.57 L248.46 385.42 L249.5 385.27 L250.53 385.12 L251.56 384.98 L252.59 384.85 L253.62 384.72 L254.65 384.59 L255.68 384.46 L256.71 384.34 L257.74 384.23 L258.77 384.11 L259.8 384 L260.83 383.9 L261.87 383.79 L262.9 383.69 L263.93 383.59 L264.96 383.5 L265.99 383.41 L267.02 383.32 L268.05 383.23 L269.08 383.15 L270.11 383.06 L271.14 382.99 L272.17 382.91 L273.2 382.83 L274.24 382.76 L275.27 382.69 L276.3 382.62 L277.33 382.56 L278.36 382.49 L279.39 382.43 L280.42 382.37 L281.45 382.31 L282.48 382.25 L283.51 382.2 L284.54 382.15 L285.57 382.09 L286.61 382.04 L287.64 381.99 L288.67 381.95 L289.7 381.9 L290.73 381.86 L291.76 381.81 L292.79 381.77 L293.82 381.73 L294.85 381.69 L295.88 381.65 L296.91 381.61 L297.94 381.58 L298.98 381.54 L300.01 381.51 L301.04 381.47 L302.07 381.44 L303.1 381.41 L304.13 381.38 L305.16 381.35 L306.19 381.32 L307.22 381.29 L308.25 381.27 L309.28 381.24 L310.31 381.22 L311.34 381.19 L312.38 381.17 L313.41 381.14 L314.44 381.12 L315.47 381.1 L316.5 381.08 L317.53 381.06 L318.56 381.04 L319.59 381.02 L320.62 381 L321.65 380.98 L322.68 380.96 L323.72 380.95 L324.75 380.93 L325.78 380.92 L326.81 380.9 L327.84 380.88 L328.87 380.87 L329.9 380.86" fill="none" stroke="#c92f55" stroke-width="1.1"/>
<path d="M288.67 388.94V390.6M287.37 388.94H289.97M287.37 390.6H289.97" stroke="#2f5f7f" stroke-width="0.85" fill="none"/>
<path d="M329.9 387.6V390.38M328.6 387.6H331.2M328.6 390.38H331.2" stroke="#2f5f7f" stroke-width="0.85" fill="none"/>
<rect x="214.91" y="382.39" width="3.2" height="3.2" fill="#c97f95"/>
<rect x="225.22" y="372.4" width="3.2" height="3.2" fill="#c97f95"/>
<rect x="245.83" y="354.35" width="3.2" height="3.2" fill="#c97f95"/>
<rect x="287.07" y="346.91" width="3.2" height="3.2" fill="#c97f95"/>
<rect x="328.3" y="342.91" width="3.2" height="3.2" fill="#c97f95"/>
<circle cx="216.51" cy="377.27" r="1.95" fill="#3a2a1c"/>
<circle cx="226.82" cy="362.73" r="1.95" fill="#3a2a1c"/>
<circle cx="247.43" cy="344.01" r="1.95" fill="#3a2a1c"/>
<circle cx="288.67" cy="334.01" r="1.95" fill="#3a2a1c"/>
<circle cx="329.9" cy="331.52" r="1.95" fill="#3a2a1c"/>
<path d="M216.51 391.19L218.81 393.49L216.51 395.79L214.21 393.49Z" fill="#b01c42"/>
<path d="M226.82 387.97L229.12 390.27L226.82 392.57L224.52 390.27Z" fill="#b01c42"/>
<path d="M247.43 383.69L249.73 385.99L247.43 388.29L245.13 385.99Z" fill="#b01c42"/>
<path d="M288.67 379.2L290.97 381.5L288.67 383.8L286.37 381.5Z" fill="#b01c42"/>
<path d="M329.9 378.47L332.2 380.77L329.9 383.07L327.6 380.77Z" fill="#b01c42"/>
<circle cx="206.2" cy="397.6" r="1.75" fill="#1a3d58"/>
<circle cx="216.51" cy="395.27" r="1.75" fill="#1a3d58"/>
<circle cx="226.82" cy="393.49" r="1.75" fill="#1a3d58"/>
<circle cx="247.43" cy="390.99" r="1.75" fill="#1a3d58"/>
<circle cx="288.67" cy="389.77" r="1.75" fill="#1a3d58"/>
<circle cx="329.9" cy="388.99" r="1.75" fill="#1a3d58"/>
<path d="M206.2 395L208.8 397.6L206.2 400.2L203.6 397.6Z" fill="#23344a"/>
<path d="M379.6 311.5V397.6H506.1" fill="none" stroke="#222" stroke-width="1.15"/>
<path d="M376.3 397.6H379.6" stroke="#222" stroke-width="1"/>
<text x="374" y="400.05" font-size="7.8" text-anchor="end">0</text>
<path d="M376.3 380.94H379.6" stroke="#222" stroke-width="1"/>
<text x="374" y="383.39" font-size="7.8" text-anchor="end">20</text>
<path d="M376.3 364.28H379.6" stroke="#222" stroke-width="1"/>
<text x="374" y="366.73" font-size="7.8" text-anchor="end">40</text>
<path d="M376.3 347.62H379.6" stroke="#222" stroke-width="1"/>
<text x="374" y="350.07" font-size="7.8" text-anchor="end">60</text>
<path d="M376.3 330.96H379.6" stroke="#222" stroke-width="1"/>
<text x="374" y="333.41" font-size="7.8" text-anchor="end">80</text>
<path d="M376.3 314.3H379.6" stroke="#222" stroke-width="1"/>
<text x="374" y="316.75" font-size="7.8" text-anchor="end">100</text>
<path d="M379.6 397.6V400.8" stroke="#222" stroke-width="1"/>
<text x="379.6" y="410" font-size="7.8" text-anchor="middle">0</text>
<path d="M420.83 397.6V400.8" stroke="#222" stroke-width="1"/>
<text x="420.83" y="410" font-size="7.8" text-anchor="middle">2</text>
<path d="M462.07 397.6V400.8" stroke="#222" stroke-width="1"/>
<text x="462.07" y="410" font-size="7.8" text-anchor="middle">4</text>
<path d="M503.3 397.6V400.8" stroke="#222" stroke-width="1"/>
<text x="503.3" y="410" font-size="7.8" text-anchor="middle">6</text>
<text x="433.65" y="422.3" font-size="9.4" font-weight="bold" textLength="15.6" lengthAdjust="spacingAndGlyphs">Hours</text>
<text transform="translate(354.8 352.95) rotate(-90)" x="-20.9" y="0" font-size="8" font-weight="bold" style="stroke-width:0" textLength="41.8" lengthAdjust="spacingAndGlyphs">µmol/1e8 cells</text>
<text x="390.25" y="298.7" font-size="5.3" style="stroke-width:0.1px">13</text><text x="396.15" y="302.3" font-size="9.0">C</text><text x="402.65" y="305.2" font-size="5.3" style="stroke-width:0.1px">3</text><text x="405.59" y="302.3" font-size="9.0">-Phosphoenolpyruvate</text>
<path d="M379.6 397.6 L380.63 396.13 L381.66 394.7 L382.69 393.32 L383.72 391.98 L384.75 390.68 L385.79 389.42 L386.82 388.2 L387.85 387.02 L388.88 385.88 L389.91 384.77 L390.94 383.7 L391.97 382.65 L393 381.65 L394.03 380.67 L395.06 379.72 L396.09 378.8 L397.12 377.91 L398.16 377.05 L399.19 376.22 L400.22 375.41 L401.25 374.62 L402.28 373.86 L403.31 373.13 L404.34 372.41 L405.37 371.72 L406.4 371.05 L407.43 370.4 L408.46 369.77 L409.49 369.16 L410.53 368.57 L411.56 368 L412.59 367.45 L413.62 366.91 L414.65 366.39 L415.68 365.88 L416.71 365.4 L417.74 364.92 L418.77 364.46 L419.8 364.02 L420.83 363.59 L421.86 363.17 L422.9 362.76 L423.93 362.37 L424.96 361.99 L425.99 361.62 L427.02 361.27 L428.05 360.92 L429.08 360.59 L430.11 360.26 L431.14 359.95 L432.17 359.64 L433.2 359.35 L434.23 359.06 L435.27 358.78 L436.3 358.52 L437.33 358.26 L438.36 358 L439.39 357.76 L440.42 357.52 L441.45 357.29 L442.48 357.07 L443.51 356.85 L444.54 356.65 L445.57 356.44 L446.6 356.25 L447.63 356.06 L448.67 355.87 L449.7 355.69 L450.73 355.52 L451.76 355.35 L452.79 355.19 L453.82 355.03 L454.85 354.88 L455.88 354.73 L456.91 354.59 L457.94 354.45 L458.97 354.32 L460 354.19 L461.04 354.06 L462.07 353.94 L463.1 353.82 L464.13 353.71 L465.16 353.59 L466.19 353.49 L467.22 353.38 L468.25 353.28 L469.28 353.18 L470.31 353.09 L471.34 353 L472.38 352.91 L473.41 352.82 L474.44 352.74 L475.47 352.66 L476.5 352.58 L477.53 352.5 L478.56 352.43 L479.59 352.36 L480.62 352.29 L481.65 352.22 L482.68 352.15 L483.71 352.09 L484.75 352.03 L485.78 351.97 L486.81 351.91 L487.84 351.86 L488.87 351.8 L489.9 351.75 L490.93 351.7 L491.96 351.65 L492.99 351.6 L494.02 351.56 L495.05 351.51 L496.08 351.47 L497.12 351.43 L498.15 351.39 L499.18 351.35 L500.21 351.31 L501.24 351.27 L502.27 351.24 L503.3 351.2" fill="none" stroke="#d99eb0" stroke-width="1.1"/>
<path d="M379.6 397.6 L380.63 395.49 L381.66 393.46 L382.69 391.5 L383.72 389.61 L384.75 387.79 L385.79 386.03 L386.82 384.33 L387.85 382.7 L388.88 381.12 L389.91 379.59 L390.94 378.12 L391.97 376.71 L393 375.34 L394.03 374.02 L395.06 372.75 L396.09 371.52 L397.12 370.34 L398.16 369.2 L399.19 368.09 L400.22 367.03 L401.25 366.01 L402.28 365.02 L403.31 364.06 L404.34 363.14 L405.37 362.26 L406.4 361.4 L407.43 360.57 L408.46 359.78 L409.49 359.01 L410.53 358.27 L411.56 357.55 L412.59 356.86 L413.62 356.2 L414.65 355.55 L415.68 354.93 L416.71 354.34 L417.74 353.76 L418.77 353.21 L419.8 352.67 L420.83 352.15 L421.86 351.65 L422.9 351.17 L423.93 350.71 L424.96 350.26 L425.99 349.83 L427.02 349.41 L428.05 349.01 L429.08 348.62 L430.11 348.25 L431.14 347.89 L432.17 347.54 L433.2 347.2 L434.23 346.88 L435.27 346.57 L436.3 346.26 L437.33 345.97 L438.36 345.69 L439.39 345.42 L440.42 345.16 L441.45 344.91 L442.48 344.67 L443.51 344.43 L444.54 344.21 L445.57 343.99 L446.6 343.78 L447.63 343.57 L448.67 343.38 L449.7 343.19 L450.73 343.01 L451.76 342.83 L452.79 342.66 L453.82 342.5 L454.85 342.34 L455.88 342.19 L456.91 342.04 L457.94 341.9 L458.97 341.77 L460 341.63 L461.04 341.51 L462.07 341.38 L463.1 341.27 L464.13 341.15 L465.16 341.04 L466.19 340.94 L467.22 340.83 L468.25 340.73 L469.28 340.64 L470.31 340.55 L471.34 340.46 L472.38 340.37 L473.41 340.29 L474.44 340.21 L475.47 340.13 L476.5 340.06 L477.53 339.99 L478.56 339.92 L479.59 339.85 L480.62 339.79 L481.65 339.73 L482.68 339.67 L483.71 339.61 L484.75 339.55 L485.78 339.5 L486.81 339.45 L487.84 339.4 L488.87 339.35 L489.9 339.31 L490.93 339.26 L491.96 339.22 L492.99 339.18 L494.02 339.14 L495.05 339.1 L496.08 339.06 L497.12 339.02 L498.15 338.99 L499.18 338.96 L500.21 338.92 L501.24 338.89 L502.27 338.86 L503.3 338.83" fill="none" stroke="#4b3b2e" stroke-width="1.1"/>
<path d="M379.6 397.6 L380.63 397.37 L381.66 397.14 L382.69 396.92 L383.72 396.71 L384.75 396.5 L385.79 396.3 L386.82 396.1 L387.85 395.91 L388.88 395.73 L389.91 395.55 L390.94 395.38 L391.97 395.21 L393 395.04 L394.03 394.89 L395.06 394.73 L396.09 394.58 L397.12 394.44 L398.16 394.3 L399.19 394.16 L400.22 394.03 L401.25 393.9 L402.28 393.78 L403.31 393.66 L404.34 393.54 L405.37 393.42 L406.4 393.31 L407.43 393.21 L408.46 393.1 L409.49 393 L410.53 392.9 L411.56 392.81 L412.59 392.72 L413.62 392.63 L414.65 392.54 L415.68 392.46 L416.71 392.37 L417.74 392.29 L418.77 392.22 L419.8 392.14 L420.83 392.07 L421.86 392 L422.9 391.93 L423.93 391.86 L424.96 391.8 L425.99 391.74 L427.02 391.68 L428.05 391.62 L429.08 391.56 L430.11 391.51 L431.14 391.45 L432.17 391.4 L433.2 391.35 L434.23 391.3 L435.27 391.25 L436.3 391.21 L437.33 391.16 L438.36 391.12 L439.39 391.08 L440.42 391.03 L441.45 390.99 L442.48 390.96 L443.51 390.92 L444.54 390.88 L445.57 390.85 L446.6 390.81 L447.63 390.78 L448.67 390.75 L449.7 390.72 L450.73 390.69 L451.76 390.66 L452.79 390.63 L453.82 390.6 L454.85 390.57 L455.88 390.55 L456.91 390.52 L457.94 390.5 L458.97 390.47 L460 390.45 L461.04 390.43 L462.07 390.4 L463.1 390.38 L464.13 390.36 L465.16 390.34 L466.19 390.32 L467.22 390.3 L468.25 390.29 L469.28 390.27 L470.31 390.25 L471.34 390.23 L472.38 390.22 L473.41 390.2 L474.44 390.19 L475.47 390.17 L476.5 390.16 L477.53 390.14 L478.56 390.13 L479.59 390.12 L480.62 390.1 L481.65 390.09 L482.68 390.08 L483.71 390.07 L484.75 390.06 L485.78 390.05 L486.81 390.04 L487.84 390.03 L488.87 390.02 L489.9 390.01 L490.93 390 L491.96 389.99 L492.99 389.98 L494.02 389.97 L495.05 389.96 L496.08 389.95 L497.12 389.95 L498.15 389.94 L499.18 389.93 L500.21 389.92 L501.24 389.92 L502.27 389.91 L503.3 389.9" fill="none" stroke="#2a5778" stroke-width="1.1"/>
<path d="M379.6 397.6 L380.63 397.11 L381.66 396.63 L382.69 396.17 L383.72 395.72 L384.75 395.28 L385.79 394.86 L386.82 394.44 L387.85 394.05 L388.88 393.66 L389.91 393.28 L390.94 392.92 L391.97 392.56 L393 392.22 L394.03 391.89 L395.06 391.56 L396.09 391.25 L397.12 390.94 L398.16 390.65 L399.19 390.36 L400.22 390.08 L401.25 389.81 L402.28 389.55 L403.31 389.3 L404.34 389.05 L405.37 388.81 L406.4 388.58 L407.43 388.35 L408.46 388.13 L409.49 387.92 L410.53 387.71 L411.56 387.51 L412.59 387.32 L413.62 387.13 L414.65 386.95 L415.68 386.77 L416.71 386.6 L417.74 386.43 L418.77 386.27 L419.8 386.11 L420.83 385.96 L421.86 385.81 L422.9 385.67 L423.93 385.53 L424.96 385.39 L425.99 385.26 L427.02 385.13 L428.05 385.01 L429.08 384.89 L430.11 384.77 L431.14 384.66 L432.17 384.55 L433.2 384.44 L434.23 384.34 L435.27 384.24 L436.3 384.14 L437.33 384.04 L438.36 383.95 L439.39 383.86 L440.42 383.78 L441.45 383.69 L442.48 383.61 L443.51 383.53 L444.54 383.46 L445.57 383.38 L446.6 383.31 L447.63 383.24 L448.67 383.17 L449.7 383.11 L450.73 383.04 L451.76 382.98 L452.79 382.92 L453.82 382.86 L454.85 382.8 L455.88 382.75 L456.91 382.7 L457.94 382.64 L458.97 382.59 L460 382.54 L461.04 382.5 L462.07 382.45 L463.1 382.41 L464.13 382.36 L465.16 382.32 L466.19 382.28 L467.22 382.24 L468.25 382.2 L469.28 382.17 L470.31 382.13 L471.34 382.09 L472.38 382.06 L473.41 382.03 L474.44 381.99 L475.47 381.96 L476.5 381.93 L477.53 381.9 L478.56 381.88 L479.59 381.85 L480.62 381.82 L481.65 381.79 L482.68 381.77 L483.71 381.74 L484.75 381.72 L485.78 381.7 L486.81 381.68 L487.84 381.65 L488.87 381.63 L489.9 381.61 L490.93 381.59 L491.96 381.57 L492.99 381.55 L494.02 381.54 L495.05 381.52 L496.08 381.5 L497.12 381.48 L498.15 381.47 L499.18 381.45 L500.21 381.44 L501.24 381.42 L502.27 381.41 L503.3 381.4" fill="none" stroke="#c92f55" stroke-width="1.1"/>
<path d="M389.91 394.43V396.1M388.61 394.43H391.21M388.61 396.1H391.21" stroke="#2f5f7f" stroke-width="0.85" fill="none"/>
<path d="M400.22 392.27V394.77M398.92 392.27H401.52M398.92 394.77H401.52" stroke="#2f5f7f" stroke-width="0.85" fill="none"/>
<path d="M420.83 389.94V394.1M419.53 389.94H422.13M419.53 394.1H422.13" stroke="#2f5f7f" stroke-width="0.85" fill="none"/>
<path d="M462.07 387.35V393.19M460.77 387.35H463.37M460.77 393.19H463.37" stroke="#2f5f7f" stroke-width="0.85" fill="none"/>
<path d="M503.3 387.77V392.77M502 387.77H504.6M502 392.77H504.6" stroke="#2f5f7f" stroke-width="0.85" fill="none"/>
<rect x="388.31" y="384.92" width="3.2" height="3.2" fill="#c97f95"/>
<rect x="398.62" y="373.68" width="3.2" height="3.2" fill="#c97f95"/>
<rect x="419.23" y="359.43" width="3.2" height="3.2" fill="#c97f95"/>
<rect x="460.47" y="355.68" width="3.2" height="3.2" fill="#c97f95"/>
<rect x="501.7" y="348.69" width="3.2" height="3.2" fill="#c97f95"/>
<circle cx="389.91" cy="380.77" r="1.95" fill="#3a2a1c"/>
<circle cx="400.22" cy="367.28" r="1.95" fill="#3a2a1c"/>
<circle cx="420.83" cy="350.79" r="1.95" fill="#3a2a1c"/>
<circle cx="462.07" cy="343.29" r="1.95" fill="#3a2a1c"/>
<circle cx="503.3" cy="338.21" r="1.95" fill="#3a2a1c"/>
<path d="M389.91 391.22L392.21 393.52L389.91 395.82L387.61 393.52Z" fill="#b01c42"/>
<path d="M400.22 387.47L402.52 389.77L400.22 392.07L397.92 389.77Z" fill="#b01c42"/>
<path d="M420.83 383.47L423.13 385.77L420.83 388.07L418.53 385.77Z" fill="#b01c42"/>
<path d="M462.07 377.47L464.37 379.77L462.07 382.07L459.77 379.77Z" fill="#b01c42"/>
<path d="M503.3 380.47L505.6 382.77L503.3 385.07L501 382.77Z" fill="#b01c42"/>
<circle cx="379.6" cy="397.6" r="1.75" fill="#1a3d58"/>
<circle cx="389.91" cy="395.27" r="1.75" fill="#1a3d58"/>
<circle cx="400.22" cy="393.52" r="1.75" fill="#1a3d58"/>
<circle cx="420.83" cy="392.02" r="1.75" fill="#1a3d58"/>
<circle cx="462.07" cy="390.27" r="1.75" fill="#1a3d58"/>
<circle cx="503.3" cy="390.27" r="1.75" fill="#1a3d58"/>
<path d="M379.6 395L382.2 397.6L379.6 400.2L377 397.6Z" fill="#23344a"/>
<path d="M38.5 454.1V540.2H165" fill="none" stroke="#222" stroke-width="1.15"/>
<path d="M35.2 540.2H38.5" stroke="#222" stroke-width="1"/>
<text x="32.9" y="542.65" font-size="7.8" text-anchor="end">0</text>
<path d="M35.2 519.38H38.5" stroke="#222" stroke-width="1"/>
<text x="32.9" y="521.83" font-size="7.8" text-anchor="end">1</text>
<path d="M35.2 498.55H38.5" stroke="#222" stroke-width="1"/>
<text x="32.9" y="501" font-size="7.8" text-anchor="end">2</text>
<path d="M35.2 477.73H38.5" stroke="#222" stroke-width="1"/>
<text x="32.9" y="480.18" font-size="7.8" text-anchor="end">3</text>
<path d="M35.2 456.9H38.5" stroke="#222" stroke-width="1"/>
<text x="32.9" y="459.35" font-size="7.8" text-anchor="end">4</text>
<path d="M38.5 540.2V543.4" stroke="#222" stroke-width="1"/>
<text x="38.5" y="552.6" font-size="7.8" text-anchor="middle">0</text>
<path d="M79.73 540.2V543.4" stroke="#222" stroke-width="1"/>
<text x="79.73" y="552.6" font-size="7.8" text-anchor="middle">2</text>
<path d="M120.97 540.2V543.4" stroke="#222" stroke-width="1"/>
<text x="120.97" y="552.6" font-size="7.8" text-anchor="middle">4</text>
<path d="M162.2 540.2V543.4" stroke="#222" stroke-width="1"/>
<text x="162.2" y="552.6" font-size="7.8" text-anchor="middle">6</text>
<text x="92.55" y="564.9" font-size="9.4" font-weight="bold" textLength="15.6" lengthAdjust="spacingAndGlyphs">Hours</text>
<text transform="translate(22.6 495.55) rotate(-90)" x="-20.9" y="0" font-size="8" font-weight="bold" style="stroke-width:0" textLength="41.8" lengthAdjust="spacingAndGlyphs">µmol/1e8 cells</text>
<text x="74.92" y="441.3" font-size="5.3" style="stroke-width:0.1px">13</text><text x="80.82" y="444.9" font-size="9.0">C</text><text x="87.32" y="447.8" font-size="5.3" style="stroke-width:0.1px">3</text><text x="90.27" y="444.9" font-size="9.0">-Pyruvate</text>
<path d="M38.5 540.2 L39.53 539.67 L40.56 539.16 L41.59 538.66 L42.62 538.19 L43.65 537.73 L44.69 537.28 L45.72 536.85 L46.75 536.44 L47.78 536.04 L48.81 535.65 L49.84 535.28 L50.87 534.91 L51.9 534.57 L52.93 534.23 L53.96 533.91 L54.99 533.59 L56.02 533.29 L57.05 533 L58.09 532.71 L59.12 532.44 L60.15 532.18 L61.18 531.92 L62.21 531.68 L63.24 531.44 L64.27 531.21 L65.3 530.99 L66.33 530.78 L67.36 530.57 L68.39 530.37 L69.42 530.18 L70.46 530 L71.49 529.82 L72.52 529.64 L73.55 529.48 L74.58 529.32 L75.61 529.16 L76.64 529.01 L77.67 528.87 L78.7 528.73 L79.73 528.59 L80.76 528.46 L81.8 528.33 L82.83 528.21 L83.86 528.09 L84.89 527.98 L85.92 527.87 L86.95 527.76 L87.98 527.66 L89.01 527.56 L90.04 527.47 L91.07 527.38 L92.1 527.29 L93.13 527.2 L94.16 527.12 L95.2 527.04 L96.23 526.96 L97.26 526.89 L98.29 526.81 L99.32 526.74 L100.35 526.68 L101.38 526.61 L102.41 526.55 L103.44 526.49 L104.47 526.43 L105.5 526.37 L106.53 526.32 L107.57 526.27 L108.6 526.22 L109.63 526.17 L110.66 526.12 L111.69 526.07 L112.72 526.03 L113.75 525.99 L114.78 525.95 L115.81 525.91 L116.84 525.87 L117.87 525.83 L118.91 525.79 L119.94 525.76 L120.97 525.73 L122 525.69 L123.03 525.66 L124.06 525.63 L125.09 525.6 L126.12 525.58 L127.15 525.55 L128.18 525.52 L129.21 525.5 L130.24 525.47 L131.28 525.45 L132.31 525.43 L133.34 525.41 L134.37 525.38 L135.4 525.36 L136.43 525.34 L137.46 525.32 L138.49 525.31 L139.52 525.29 L140.55 525.27 L141.58 525.25 L142.61 525.24 L143.64 525.22 L144.68 525.21 L145.71 525.19 L146.74 525.18 L147.77 525.17 L148.8 525.15 L149.83 525.14 L150.86 525.13 L151.89 525.12 L152.92 525.11 L153.95 525.1 L154.98 525.08 L156.02 525.07 L157.05 525.06 L158.08 525.06 L159.11 525.05 L160.14 525.04 L161.17 525.03 L162.2 525.02" fill="none" stroke="#d99eb0" stroke-width="1.1"/>
<path d="M38.5 540.2 L39.53 539.65 L40.56 539.11 L41.59 538.59 L42.62 538.08 L43.65 537.59 L44.69 537.11 L45.72 536.65 L46.75 536.2 L47.78 535.77 L48.81 535.34 L49.84 534.93 L50.87 534.53 L51.9 534.15 L52.93 533.77 L53.96 533.41 L54.99 533.06 L56.02 532.71 L57.05 532.38 L58.09 532.06 L59.12 531.74 L60.15 531.44 L61.18 531.14 L62.21 530.86 L63.24 530.58 L64.27 530.31 L65.3 530.05 L66.33 529.8 L67.36 529.55 L68.39 529.31 L69.42 529.08 L70.46 528.85 L71.49 528.63 L72.52 528.42 L73.55 528.22 L74.58 528.02 L75.61 527.82 L76.64 527.63 L77.67 527.45 L78.7 527.27 L79.73 527.1 L80.76 526.94 L81.8 526.77 L82.83 526.62 L83.86 526.46 L84.89 526.32 L85.92 526.17 L86.95 526.03 L87.98 525.9 L89.01 525.77 L90.04 525.64 L91.07 525.52 L92.1 525.4 L93.13 525.28 L94.16 525.17 L95.2 525.06 L96.23 524.95 L97.26 524.85 L98.29 524.75 L99.32 524.65 L100.35 524.56 L101.38 524.46 L102.41 524.38 L103.44 524.29 L104.47 524.21 L105.5 524.12 L106.53 524.05 L107.57 523.97 L108.6 523.89 L109.63 523.82 L110.66 523.75 L111.69 523.68 L112.72 523.62 L113.75 523.56 L114.78 523.49 L115.81 523.43 L116.84 523.37 L117.87 523.32 L118.91 523.26 L119.94 523.21 L120.97 523.16 L122 523.11 L123.03 523.06 L124.06 523.01 L125.09 522.97 L126.12 522.92 L127.15 522.88 L128.18 522.84 L129.21 522.79 L130.24 522.76 L131.28 522.72 L132.31 522.68 L133.34 522.64 L134.37 522.61 L135.4 522.57 L136.43 522.54 L137.46 522.51 L138.49 522.48 L139.52 522.45 L140.55 522.42 L141.58 522.39 L142.61 522.36 L143.64 522.34 L144.68 522.31 L145.71 522.29 L146.74 522.26 L147.77 522.24 L148.8 522.21 L149.83 522.19 L150.86 522.17 L151.89 522.15 L152.92 522.13 L153.95 522.11 L154.98 522.09 L156.02 522.07 L157.05 522.05 L158.08 522.03 L159.11 522.02 L160.14 522 L161.17 521.99 L162.2 521.97" fill="none" stroke="#4b3b2e" stroke-width="1.1"/>
<path d="M38.5 537.28 L39.53 536.39 L40.56 535.5 L41.59 534.63 L42.62 533.78 L43.65 532.93 L44.69 532.11 L45.72 531.29 L46.75 530.49 L47.78 529.71 L48.81 528.93 L49.84 528.17 L50.87 527.43 L51.9 526.69 L52.93 525.97 L53.96 525.25 L54.99 524.56 L56.02 523.87 L57.05 523.19 L58.09 522.53 L59.12 521.87 L60.15 521.23 L61.18 520.6 L62.21 519.97 L63.24 519.36 L64.27 518.76 L65.3 518.17 L66.33 517.59 L67.36 517.01 L68.39 516.45 L69.42 515.9 L70.46 515.35 L71.49 514.82 L72.52 514.29 L73.55 513.78 L74.58 513.27 L75.61 512.77 L76.64 512.27 L77.67 511.79 L78.7 511.31 L79.73 510.85 L80.76 510.39 L81.8 509.93 L82.83 509.49 L83.86 509.05 L84.89 508.62 L85.92 508.2 L86.95 507.78 L87.98 507.37 L89.01 506.97 L90.04 506.57 L91.07 506.18 L92.1 505.8 L93.13 505.42 L94.16 505.05 L95.2 504.69 L96.23 504.33 L97.26 503.98 L98.29 503.63 L99.32 503.29 L100.35 502.96 L101.38 502.63 L102.41 502.31 L103.44 501.99 L104.47 501.67 L105.5 501.37 L106.53 501.06 L107.57 500.77 L108.6 500.47 L109.63 500.19 L110.66 499.9 L111.69 499.62 L112.72 499.35 L113.75 499.08 L114.78 498.82 L115.81 498.56 L116.84 498.3 L117.87 498.05 L118.91 497.8 L119.94 497.56 L120.97 497.32 L122 497.08 L123.03 496.85 L124.06 496.62 L125.09 496.4 L126.12 496.18 L127.15 495.96 L128.18 495.75 L129.21 495.54 L130.24 495.33 L131.28 495.13 L132.31 494.93 L133.34 494.74 L134.37 494.54 L135.4 494.35 L136.43 494.17 L137.46 493.98 L138.49 493.8 L139.52 493.63 L140.55 493.45 L141.58 493.28 L142.61 493.11 L143.64 492.95 L144.68 492.78 L145.71 492.62 L146.74 492.47 L147.77 492.31 L148.8 492.16 L149.83 492.01 L150.86 491.86 L151.89 491.72 L152.92 491.57 L153.95 491.43 L154.98 491.3 L156.02 491.16 L157.05 491.03 L158.08 490.9 L159.11 490.77 L160.14 490.64 L161.17 490.52 L162.2 490.39" fill="none" stroke="#2a5778" stroke-width="1.1"/>
<path d="M38.5 540.2 L39.53 539.71 L40.56 539.22 L41.59 538.73 L42.62 538.24 L43.65 537.76 L44.69 537.29 L45.72 536.81 L46.75 536.34 L47.78 535.88 L48.81 535.41 L49.84 534.95 L50.87 534.5 L51.9 534.04 L52.93 533.59 L53.96 533.14 L54.99 532.7 L56.02 532.26 L57.05 531.82 L58.09 531.38 L59.12 530.95 L60.15 530.52 L61.18 530.09 L62.21 529.67 L63.24 529.25 L64.27 528.83 L65.3 528.42 L66.33 528.01 L67.36 527.6 L68.39 527.19 L69.42 526.79 L70.46 526.39 L71.49 525.99 L72.52 525.6 L73.55 525.2 L74.58 524.81 L75.61 524.43 L76.64 524.04 L77.67 523.66 L78.7 523.28 L79.73 522.91 L80.76 522.53 L81.8 522.16 L82.83 521.8 L83.86 521.43 L84.89 521.07 L85.92 520.71 L86.95 520.35 L87.98 519.99 L89.01 519.64 L90.04 519.29 L91.07 518.94 L92.1 518.6 L93.13 518.25 L94.16 517.91 L95.2 517.57 L96.23 517.24 L97.26 516.9 L98.29 516.57 L99.32 516.24 L100.35 515.92 L101.38 515.59 L102.41 515.27 L103.44 514.95 L104.47 514.63 L105.5 514.32 L106.53 514 L107.57 513.69 L108.6 513.38 L109.63 513.08 L110.66 512.77 L111.69 512.47 L112.72 512.17 L113.75 511.87 L114.78 511.57 L115.81 511.28 L116.84 510.99 L117.87 510.7 L118.91 510.41 L119.94 510.12 L120.97 509.84 L122 509.56 L123.03 509.28 L124.06 509 L125.09 508.72 L126.12 508.45 L127.15 508.18 L128.18 507.91 L129.21 507.64 L130.24 507.37 L131.28 507.11 L132.31 506.84 L133.34 506.58 L134.37 506.32 L135.4 506.06 L136.43 505.81 L137.46 505.55 L138.49 505.3 L139.52 505.05 L140.55 504.8 L141.58 504.56 L142.61 504.31 L143.64 504.07 L144.68 503.83 L145.71 503.58 L146.74 503.35 L147.77 503.11 L148.8 502.87 L149.83 502.64 L150.86 502.41 L151.89 502.18 L152.92 501.95 L153.95 501.72 L154.98 501.5 L156.02 501.27 L157.05 501.05 L158.08 500.83 L159.11 500.61 L160.14 500.39 L161.17 500.18 L162.2 499.96" fill="none" stroke="#c92f55" stroke-width="1.1"/>
<path d="M38.5 535.62V539.78M37.2 535.62H39.8M37.2 539.78H39.8" stroke="#2f5f7f" stroke-width="0.85" fill="none"/>
<path d="M40.21 532.91V539.16M38.91 532.91H41.51M38.91 539.16H41.51" stroke="#2f5f7f" stroke-width="0.85" fill="none"/>
<path d="M48.81 519.38V532.7M47.51 519.38H50.11M47.51 532.7H50.11" stroke="#2f5f7f" stroke-width="0.85" fill="none"/>
<path d="M59.12 511.25V530.83M57.82 511.25H60.42M57.82 530.83H60.42" stroke="#2f5f7f" stroke-width="0.85" fill="none"/>
<path d="M79.73 495.84V525M78.43 495.84H81.03M78.43 525H81.03" stroke="#2f5f7f" stroke-width="0.85" fill="none"/>
<path d="M120.97 486.89V512.71M119.67 486.89H122.27M119.67 512.71H122.27" stroke="#2f5f7f" stroke-width="0.85" fill="none"/>
<path d="M162.2 475.23V505.21M160.9 475.23H163.5M160.9 505.21H163.5" stroke="#2f5f7f" stroke-width="0.85" fill="none"/>
<path d="M120.97 498.13V512.71M119.67 498.13H122.27M119.67 512.71H122.27" stroke="#b83a5a" stroke-width="0.85" fill="none"/>
<path d="M162.2 495.22V505.21M160.9 495.22H163.5M160.9 505.21H163.5" stroke="#b83a5a" stroke-width="0.85" fill="none"/>
<rect x="47.21" y="533.39" width="3.2" height="3.2" fill="#c97f95"/>
<rect x="57.52" y="530.69" width="3.2" height="3.2" fill="#c97f95"/>
<rect x="78.13" y="526.94" width="3.2" height="3.2" fill="#c97f95"/>
<rect x="119.37" y="523.61" width="3.2" height="3.2" fill="#c97f95"/>
<rect x="160.6" y="523.61" width="3.2" height="3.2" fill="#c97f95"/>
<circle cx="48.81" cy="534.79" r="1.95" fill="#3a2a1c"/>
<circle cx="59.12" cy="531.45" r="1.95" fill="#3a2a1c"/>
<circle cx="79.73" cy="524.37" r="1.95" fill="#3a2a1c"/>
<circle cx="120.97" cy="524.79" r="1.95" fill="#3a2a1c"/>
<circle cx="162.2" cy="521.67" r="1.95" fill="#3a2a1c"/>
<path d="M48.81 532.49L51.11 534.79L48.81 537.09L46.51 534.79Z" fill="#b01c42"/>
<path d="M59.12 527.49L61.42 529.79L59.12 532.09L56.82 529.79Z" fill="#b01c42"/>
<path d="M79.73 522.49L82.03 524.79L79.73 527.09L77.43 524.79Z" fill="#b01c42"/>
<path d="M120.97 503.12L123.27 505.42L120.97 507.72L118.67 505.42Z" fill="#b01c42"/>
<path d="M162.2 497.92L164.5 500.22L162.2 502.52L159.9 500.22Z" fill="#b01c42"/>
<circle cx="38.5" cy="537.7" r="1.75" fill="#1a3d58"/>
<circle cx="40.21" cy="536.04" r="1.75" fill="#1a3d58"/>
<circle cx="48.81" cy="526.04" r="1.75" fill="#1a3d58"/>
<circle cx="59.12" cy="521.04" r="1.75" fill="#1a3d58"/>
<circle cx="79.73" cy="510.42" r="1.75" fill="#1a3d58"/>
<circle cx="120.97" cy="499.8" r="1.75" fill="#1a3d58"/>
<circle cx="162.2" cy="490.22" r="1.75" fill="#1a3d58"/>
<path d="M38.5 537.6L41.1 540.2L38.5 542.8L35.9 540.2Z" fill="#23344a"/>
<path d="M206.2 454.1V540.2H332.7" fill="none" stroke="#222" stroke-width="1.15"/>
<path d="M202.9 540.2H206.2" stroke="#222" stroke-width="1"/>
<text x="200.6" y="542.65" font-size="7.8" text-anchor="end">0</text>
<path d="M202.9 519.38H206.2" stroke="#222" stroke-width="1"/>
<text x="200.6" y="521.83" font-size="7.8" text-anchor="end">50</text>
<path d="M202.9 498.55H206.2" stroke="#222" stroke-width="1"/>
<text x="200.6" y="501" font-size="7.8" text-anchor="end">100</text>
<path d="M202.9 477.73H206.2" stroke="#222" stroke-width="1"/>
<text x="200.6" y="480.18" font-size="7.8" text-anchor="end">150</text>
<path d="M202.9 456.9H206.2" stroke="#222" stroke-width="1"/>
<text x="200.6" y="459.35" font-size="7.8" text-anchor="end">200</text>
<path d="M206.2 540.2V543.4" stroke="#222" stroke-width="1"/>
<text x="206.2" y="552.6" font-size="7.8" text-anchor="middle">0</text>
<path d="M247.43 540.2V543.4" stroke="#222" stroke-width="1"/>
<text x="247.43" y="552.6" font-size="7.8" text-anchor="middle">2</text>
<path d="M288.67 540.2V543.4" stroke="#222" stroke-width="1"/>
<text x="288.67" y="552.6" font-size="7.8" text-anchor="middle">4</text>
<path d="M329.9 540.2V543.4" stroke="#222" stroke-width="1"/>
<text x="329.9" y="552.6" font-size="7.8" text-anchor="middle">6</text>
<text x="260.25" y="564.9" font-size="9.4" font-weight="bold" textLength="15.6" lengthAdjust="spacingAndGlyphs">Hours</text>
<text transform="translate(181.4 495.55) rotate(-90)" x="-20.9" y="0" font-size="8" font-weight="bold" style="stroke-width:0" textLength="41.8" lengthAdjust="spacingAndGlyphs">µmol/1e8 cells</text>
<text x="221.11" y="444.9" font-size="9.0">Intracellular </text><text x="270.13" y="441.3" font-size="5.3" style="stroke-width:0.1px">13</text><text x="276.02" y="444.9" font-size="9.0">C</text><text x="282.52" y="447.8" font-size="5.3" style="stroke-width:0.1px">3</text><text x="285.47" y="444.9" font-size="9.0">-Lactate</text>
<path d="M206.2 540.2 L207.23 539.68 L208.26 539.17 L209.29 538.68 L210.32 538.19 L211.35 537.72 L212.38 537.25 L213.42 536.8 L214.45 536.36 L215.48 535.92 L216.51 535.5 L217.54 535.09 L218.57 534.68 L219.6 534.28 L220.63 533.9 L221.66 533.52 L222.69 533.15 L223.72 532.79 L224.75 532.43 L225.79 532.09 L226.82 531.75 L227.85 531.42 L228.88 531.09 L229.91 530.78 L230.94 530.47 L231.97 530.17 L233 529.87 L234.03 529.58 L235.06 529.3 L236.09 529.02 L237.12 528.75 L238.16 528.49 L239.19 528.23 L240.22 527.98 L241.25 527.73 L242.28 527.49 L243.31 527.25 L244.34 527.02 L245.37 526.8 L246.4 526.57 L247.43 526.36 L248.46 526.15 L249.5 525.94 L250.53 525.74 L251.56 525.54 L252.59 525.35 L253.62 525.16 L254.65 524.98 L255.68 524.8 L256.71 524.62 L257.74 524.45 L258.77 524.28 L259.8 524.11 L260.83 523.95 L261.87 523.8 L262.9 523.64 L263.93 523.49 L264.96 523.34 L265.99 523.2 L267.02 523.06 L268.05 522.92 L269.08 522.79 L270.11 522.66 L271.14 522.53 L272.17 522.4 L273.2 522.28 L274.24 522.16 L275.27 522.04 L276.3 521.93 L277.33 521.81 L278.36 521.7 L279.39 521.6 L280.42 521.49 L281.45 521.39 L282.48 521.29 L283.51 521.19 L284.54 521.09 L285.57 521 L286.61 520.91 L287.64 520.82 L288.67 520.73 L289.7 520.65 L290.73 520.56 L291.76 520.48 L292.79 520.4 L293.82 520.32 L294.85 520.24 L295.88 520.17 L296.91 520.1 L297.94 520.02 L298.98 519.95 L300.01 519.89 L301.04 519.82 L302.07 519.75 L303.1 519.69 L304.13 519.63 L305.16 519.57 L306.19 519.51 L307.22 519.45 L308.25 519.39 L309.28 519.33 L310.31 519.28 L311.34 519.23 L312.38 519.17 L313.41 519.12 L314.44 519.07 L315.47 519.02 L316.5 518.98 L317.53 518.93 L318.56 518.88 L319.59 518.84 L320.62 518.8 L321.65 518.75 L322.68 518.71 L323.72 518.67 L324.75 518.63 L325.78 518.59 L326.81 518.55 L327.84 518.52 L328.87 518.48 L329.9 518.44" fill="none" stroke="#d99eb0" stroke-width="1.1"/>
<path d="M206.2 540.2 L207.23 540.03 L208.26 539.87 L209.29 539.71 L210.32 539.55 L211.35 539.39 L212.38 539.23 L213.42 539.07 L214.45 538.92 L215.48 538.77 L216.51 538.61 L217.54 538.46 L218.57 538.32 L219.6 538.17 L220.63 538.02 L221.66 537.88 L222.69 537.74 L223.72 537.6 L224.75 537.46 L225.79 537.32 L226.82 537.18 L227.85 537.04 L228.88 536.91 L229.91 536.78 L230.94 536.65 L231.97 536.51 L233 536.39 L234.03 536.26 L235.06 536.13 L236.09 536.01 L237.12 535.88 L238.16 535.76 L239.19 535.64 L240.22 535.52 L241.25 535.4 L242.28 535.28 L243.31 535.16 L244.34 535.05 L245.37 534.93 L246.4 534.82 L247.43 534.71 L248.46 534.6 L249.5 534.49 L250.53 534.38 L251.56 534.27 L252.59 534.16 L253.62 534.06 L254.65 533.95 L255.68 533.85 L256.71 533.75 L257.74 533.64 L258.77 533.54 L259.8 533.44 L260.83 533.35 L261.87 533.25 L262.9 533.15 L263.93 533.06 L264.96 532.96 L265.99 532.87 L267.02 532.78 L268.05 532.68 L269.08 532.59 L270.11 532.5 L271.14 532.41 L272.17 532.32 L273.2 532.24 L274.24 532.15 L275.27 532.07 L276.3 531.98 L277.33 531.9 L278.36 531.81 L279.39 531.73 L280.42 531.65 L281.45 531.57 L282.48 531.49 L283.51 531.41 L284.54 531.33 L285.57 531.25 L286.61 531.18 L287.64 531.1 L288.67 531.03 L289.7 530.95 L290.73 530.88 L291.76 530.8 L292.79 530.73 L293.82 530.66 L294.85 530.59 L295.88 530.52 L296.91 530.45 L297.94 530.38 L298.98 530.31 L300.01 530.25 L301.04 530.18 L302.07 530.11 L303.1 530.05 L304.13 529.98 L305.16 529.92 L306.19 529.86 L307.22 529.79 L308.25 529.73 L309.28 529.67 L310.31 529.61 L311.34 529.55 L312.38 529.49 L313.41 529.43 L314.44 529.37 L315.47 529.31 L316.5 529.25 L317.53 529.2 L318.56 529.14 L319.59 529.09 L320.62 529.03 L321.65 528.98 L322.68 528.92 L323.72 528.87 L324.75 528.82 L325.78 528.76 L326.81 528.71 L327.84 528.66 L328.87 528.61 L329.9 528.56" fill="none" stroke="#4b3b2e" stroke-width="1.1"/>
<path d="M206.2 540.2 L207.23 539.73 L208.26 539.26 L209.29 538.8 L210.32 538.33 L211.35 537.87 L212.38 537.4 L213.42 536.94 L214.45 536.48 L215.48 536.02 L216.51 535.56 L217.54 535.1 L218.57 534.64 L219.6 534.18 L220.63 533.72 L221.66 533.27 L222.69 532.81 L223.72 532.35 L224.75 531.9 L225.79 531.45 L226.82 531 L227.85 530.54 L228.88 530.09 L229.91 529.64 L230.94 529.19 L231.97 528.75 L233 528.3 L234.03 527.85 L235.06 527.41 L236.09 526.96 L237.12 526.52 L238.16 526.07 L239.19 525.63 L240.22 525.19 L241.25 524.75 L242.28 524.31 L243.31 523.87 L244.34 523.43 L245.37 523 L246.4 522.56 L247.43 522.12 L248.46 521.69 L249.5 521.26 L250.53 520.82 L251.56 520.39 L252.59 519.96 L253.62 519.53 L254.65 519.1 L255.68 518.67 L256.71 518.24 L257.74 517.81 L258.77 517.39 L259.8 516.96 L260.83 516.54 L261.87 516.11 L262.9 515.69 L263.93 515.27 L264.96 514.85 L265.99 514.42 L267.02 514 L268.05 513.59 L269.08 513.17 L270.11 512.75 L271.14 512.33 L272.17 511.92 L273.2 511.5 L274.24 511.09 L275.27 510.68 L276.3 510.26 L277.33 509.85 L278.36 509.44 L279.39 509.03 L280.42 508.62 L281.45 508.21 L282.48 507.81 L283.51 507.4 L284.54 506.99 L285.57 506.59 L286.61 506.19 L287.64 505.78 L288.67 505.38 L289.7 504.98 L290.73 504.58 L291.76 504.18 L292.79 503.78 L293.82 503.38 L294.85 502.98 L295.88 502.59 L296.91 502.19 L297.94 501.8 L298.98 501.4 L300.01 501.01 L301.04 500.62 L302.07 500.23 L303.1 499.84 L304.13 499.45 L305.16 499.06 L306.19 498.67 L307.22 498.28 L308.25 497.89 L309.28 497.51 L310.31 497.12 L311.34 496.74 L312.38 496.36 L313.41 495.97 L314.44 495.59 L315.47 495.21 L316.5 494.83 L317.53 494.45 L318.56 494.08 L319.59 493.7 L320.62 493.32 L321.65 492.95 L322.68 492.57 L323.72 492.2 L324.75 491.82 L325.78 491.45 L326.81 491.08 L327.84 490.71 L328.87 490.34 L329.9 489.97" fill="none" stroke="#2a5778" stroke-width="1.1"/>
<path d="M206.2 540.2 L207.23 539.69 L208.26 539.18 L209.29 538.67 L210.32 538.17 L211.35 537.66 L212.38 537.15 L213.42 536.65 L214.45 536.14 L215.48 535.64 L216.51 535.14 L217.54 534.64 L218.57 534.14 L219.6 533.64 L220.63 533.14 L221.66 532.64 L222.69 532.14 L223.72 531.65 L224.75 531.15 L225.79 530.66 L226.82 530.16 L227.85 529.67 L228.88 529.18 L229.91 528.69 L230.94 528.19 L231.97 527.71 L233 527.22 L234.03 526.73 L235.06 526.24 L236.09 525.75 L237.12 525.27 L238.16 524.78 L239.19 524.3 L240.22 523.82 L241.25 523.33 L242.28 522.85 L243.31 522.37 L244.34 521.89 L245.37 521.41 L246.4 520.94 L247.43 520.46 L248.46 519.98 L249.5 519.51 L250.53 519.03 L251.56 518.56 L252.59 518.08 L253.62 517.61 L254.65 517.14 L255.68 516.67 L256.71 516.2 L257.74 515.73 L258.77 515.26 L259.8 514.8 L260.83 514.33 L261.87 513.86 L262.9 513.4 L263.93 512.93 L264.96 512.47 L265.99 512.01 L267.02 511.55 L268.05 511.09 L269.08 510.63 L270.11 510.17 L271.14 509.71 L272.17 509.25 L273.2 508.8 L274.24 508.34 L275.27 507.89 L276.3 507.43 L277.33 506.98 L278.36 506.53 L279.39 506.07 L280.42 505.62 L281.45 505.17 L282.48 504.73 L283.51 504.28 L284.54 503.83 L285.57 503.38 L286.61 502.94 L287.64 502.49 L288.67 502.05 L289.7 501.61 L290.73 501.16 L291.76 500.72 L292.79 500.28 L293.82 499.84 L294.85 499.4 L295.88 498.96 L296.91 498.53 L297.94 498.09 L298.98 497.65 L300.01 497.22 L301.04 496.79 L302.07 496.35 L303.1 495.92 L304.13 495.49 L305.16 495.06 L306.19 494.63 L307.22 494.2 L308.25 493.77 L309.28 493.34 L310.31 492.92 L311.34 492.49 L312.38 492.07 L313.41 491.64 L314.44 491.22 L315.47 490.8 L316.5 490.38 L317.53 489.96 L318.56 489.54 L319.59 489.12 L320.62 488.7 L321.65 488.28 L322.68 487.86 L323.72 487.45 L324.75 487.03 L325.78 486.62 L326.81 486.21 L327.84 485.79 L328.87 485.38 L329.9 484.97" fill="none" stroke="#c92f55" stroke-width="1.1"/>
<path d="M288.67 514.79V521.46M287.37 514.79H289.97M287.37 521.46H289.97" stroke="#d49aab" stroke-width="0.85" fill="none"/>
<path d="M216.51 534.79V537.28M215.21 534.79H217.81M215.21 537.28H217.81" stroke="#2f5f7f" stroke-width="0.85" fill="none"/>
<path d="M226.82 529.37V532.7M225.52 529.37H228.12M225.52 532.7H228.12" stroke="#2f5f7f" stroke-width="0.85" fill="none"/>
<path d="M247.43 519.79V524.79M246.13 519.79H248.73M246.13 524.79H248.73" stroke="#2f5f7f" stroke-width="0.85" fill="none"/>
<path d="M288.67 489.8V516.46M287.37 489.8H289.97M287.37 516.46H289.97" stroke="#2f5f7f" stroke-width="0.85" fill="none"/>
<path d="M329.9 478.97V501.47M328.6 478.97H331.2M328.6 501.47H331.2" stroke="#2f5f7f" stroke-width="0.85" fill="none"/>
<rect x="214.91" y="535.27" width="3.2" height="3.2" fill="#c97f95"/>
<rect x="225.22" y="530.69" width="3.2" height="3.2" fill="#c97f95"/>
<rect x="245.83" y="525.69" width="3.2" height="3.2" fill="#c97f95"/>
<rect x="287.07" y="516.53" width="3.2" height="3.2" fill="#c97f95"/>
<rect x="328.3" y="516.94" width="3.2" height="3.2" fill="#c97f95"/>
<circle cx="216.51" cy="538.12" r="1.95" fill="#3a2a1c"/>
<circle cx="226.82" cy="536.04" r="1.95" fill="#3a2a1c"/>
<circle cx="247.43" cy="533.95" r="1.95" fill="#3a2a1c"/>
<circle cx="288.67" cy="532.29" r="1.95" fill="#3a2a1c"/>
<circle cx="329.9" cy="528" r="1.95" fill="#3a2a1c"/>
<path d="M216.51 533.32L218.81 535.62L216.51 537.92L214.21 535.62Z" fill="#b01c42"/>
<path d="M226.82 528.2L229.12 530.5L226.82 532.8L224.52 530.5Z" fill="#b01c42"/>
<path d="M247.43 517.49L249.73 519.79L247.43 522.09L245.13 519.79Z" fill="#b01c42"/>
<path d="M288.67 495.83L290.97 498.13L288.67 500.43L286.37 498.13Z" fill="#b01c42"/>
<path d="M329.9 481.67L332.2 483.97L329.9 486.27L327.6 483.97Z" fill="#b01c42"/>
<circle cx="206.2" cy="540.2" r="1.75" fill="#1a3d58"/>
<circle cx="216.51" cy="536.04" r="1.75" fill="#1a3d58"/>
<circle cx="226.82" cy="531.04" r="1.75" fill="#1a3d58"/>
<circle cx="247.43" cy="522.29" r="1.75" fill="#1a3d58"/>
<circle cx="288.67" cy="503.13" r="1.75" fill="#1a3d58"/>
<circle cx="329.9" cy="490.22" r="1.75" fill="#1a3d58"/>
<path d="M206.2 537.6L208.8 540.2L206.2 542.8L203.6 540.2Z" fill="#23344a"/>
<path d="M379.6 454.1V540.2H506.1" fill="none" stroke="#222" stroke-width="1.15"/>
<path d="M376.3 540.2H379.6" stroke="#222" stroke-width="1"/>
<text x="374" y="542.65" font-size="7.8" text-anchor="end">0</text>
<path d="M376.3 523.54H379.6" stroke="#222" stroke-width="1"/>
<text x="374" y="525.99" font-size="7.8" text-anchor="end">100</text>
<path d="M376.3 506.88H379.6" stroke="#222" stroke-width="1"/>
<text x="374" y="509.33" font-size="7.8" text-anchor="end">200</text>
<path d="M376.3 490.22H379.6" stroke="#222" stroke-width="1"/>
<text x="374" y="492.67" font-size="7.8" text-anchor="end">300</text>
<path d="M376.3 473.56H379.6" stroke="#222" stroke-width="1"/>
<text x="374" y="476.01" font-size="7.8" text-anchor="end">400</text>
<path d="M376.3 456.9H379.6" stroke="#222" stroke-width="1"/>
<text x="374" y="459.35" font-size="7.8" text-anchor="end">500</text>
<path d="M379.6 540.2V543.4" stroke="#222" stroke-width="1"/>
<text x="379.6" y="552.6" font-size="7.8" text-anchor="middle">0</text>
<path d="M420.83 540.2V543.4" stroke="#222" stroke-width="1"/>
<text x="420.83" y="552.6" font-size="7.8" text-anchor="middle">2</text>
<path d="M462.07 540.2V543.4" stroke="#222" stroke-width="1"/>
<text x="462.07" y="552.6" font-size="7.8" text-anchor="middle">4</text>
<path d="M503.3 540.2V543.4" stroke="#222" stroke-width="1"/>
<text x="503.3" y="552.6" font-size="7.8" text-anchor="middle">6</text>
<text x="433.65" y="564.9" font-size="9.4" font-weight="bold" textLength="15.6" lengthAdjust="spacingAndGlyphs">Hours</text>
<text transform="translate(354.8 495.55) rotate(-90)" x="-9.8" y="0" font-size="8" font-weight="bold" style="stroke-width:0" textLength="19.6" lengthAdjust="spacingAndGlyphs">µmol/L</text>
<text x="399.76" y="444.9" font-size="9.0">Secreted </text><text x="438.28" y="441.3" font-size="5.3" style="stroke-width:0.1px">13</text><text x="444.18" y="444.9" font-size="9.0">C</text><text x="450.68" y="447.8" font-size="5.3" style="stroke-width:0.1px">3</text><text x="453.62" y="444.9" font-size="9.0">-Lactate</text>
<path d="M379.6 540.2 L389.91 539.53 L391.56 538.2 L503.3 503.55" fill="none" stroke="#d99eb0" stroke-width="1.1"/>
<path d="M379.6 540.2 L389.91 539.53 L391.56 538.2 L503.3 511.54" fill="none" stroke="#4b3b2e" stroke-width="1.1"/>
<path d="M379.6 540.2 L389.91 539.53 L391.56 538.2 L503.3 482.72" fill="none" stroke="#2a5778" stroke-width="1.1"/>
<path d="M379.6 540.2 L389.91 539.53 L391.56 538.2 L503.3 466.56" fill="none" stroke="#c92f55" stroke-width="1.1"/>
<path d="M462.07 497.55V508.55M460.77 497.55H463.37M460.77 508.55H463.37" stroke="#2f5f7f" stroke-width="0.85" fill="none"/>
<path d="M503.3 471.89V485.22M502 471.89H504.6M502 485.22H504.6" stroke="#2f5f7f" stroke-width="0.85" fill="none"/>
<rect x="378" y="538.6" width="3.2" height="3.2" fill="#c97f95"/>
<rect x="388.31" y="538.27" width="3.2" height="3.2" fill="#c97f95"/>
<rect x="398.62" y="536.1" width="3.2" height="3.2" fill="#c97f95"/>
<rect x="419.23" y="528.6" width="3.2" height="3.2" fill="#c97f95"/>
<rect x="460.47" y="511.94" width="3.2" height="3.2" fill="#c97f95"/>
<rect x="501.7" y="501.45" width="3.2" height="3.2" fill="#c97f95"/>
<circle cx="379.6" cy="540.2" r="1.95" fill="#3a2a1c"/>
<circle cx="389.91" cy="539.87" r="1.95" fill="#3a2a1c"/>
<circle cx="400.22" cy="537.7" r="1.95" fill="#3a2a1c"/>
<circle cx="420.83" cy="531.04" r="1.95" fill="#3a2a1c"/>
<circle cx="462.07" cy="519.04" r="1.95" fill="#3a2a1c"/>
<circle cx="503.3" cy="511.05" r="1.95" fill="#3a2a1c"/>
<path d="M379.6 537.9L381.9 540.2L379.6 542.5L377.3 540.2Z" fill="#b01c42"/>
<path d="M389.91 537.4L392.21 539.7L389.91 542L387.61 539.7Z" fill="#b01c42"/>
<path d="M400.22 534.9L402.52 537.2L400.22 539.5L397.92 537.2Z" fill="#b01c42"/>
<path d="M420.83 522.41L423.13 524.71L420.83 527.01L418.53 524.71Z" fill="#b01c42"/>
<path d="M462.07 493.75L464.37 496.05L462.07 498.35L459.77 496.05Z" fill="#b01c42"/>
<path d="M503.3 458.77L505.6 461.07L503.3 463.37L501 461.07Z" fill="#b01c42"/>
<circle cx="379.6" cy="540.2" r="1.75" fill="#1a3d58"/>
<circle cx="389.91" cy="539.7" r="1.75" fill="#1a3d58"/>
<circle cx="400.22" cy="536.53" r="1.75" fill="#1a3d58"/>
<circle cx="420.83" cy="528.54" r="1.75" fill="#1a3d58"/>
<circle cx="462.07" cy="503.05" r="1.75" fill="#1a3d58"/>
<circle cx="503.3" cy="478.56" r="1.75" fill="#1a3d58"/>
<path d="M379.6 537.6L382.2 540.2L379.6 542.8L377 540.2Z" fill="#23344a"/>
<path d="M379.5 49.5H390.8" stroke="#2a5778" stroke-width="1.1"/>
<circle cx="385.1" cy="49.5" r="1.75" fill="#1a3d58"/>
<text x="393.6" y="51.8" font-size="7.1">Controls (n = 10)</text>
<path d="M379.5 62.83H390.8" stroke="#d99eb0" stroke-width="1.1"/>
<rect x="383.5" y="61.23" width="3.2" height="3.2" fill="#c97f95"/>
<text x="393.6" y="65.13" font-size="7.1">PKD1</text>
<path d="M379.5 76.16H390.8" stroke="#c92f55" stroke-width="1.1"/>
<path d="M385.1 73.86L387.4 76.16L385.1 78.46L382.8 76.16Z" fill="#b01c42"/>
<text x="393.6" y="78.46" font-size="7.1">PKD2</text>
<path d="M379.5 89.49H390.8" stroke="#4b3b2e" stroke-width="1.1"/>
<circle cx="385.1" cy="89.49" r="1.95" fill="#3a2a1c"/>
<text x="393.6" y="91.79" font-size="7.1">PKD3</text>
<rect x="0.5" y="0.5" width="519" height="573" fill="none" stroke="#5c5c5c" stroke-width="1"/>
</svg>
</body></html>
